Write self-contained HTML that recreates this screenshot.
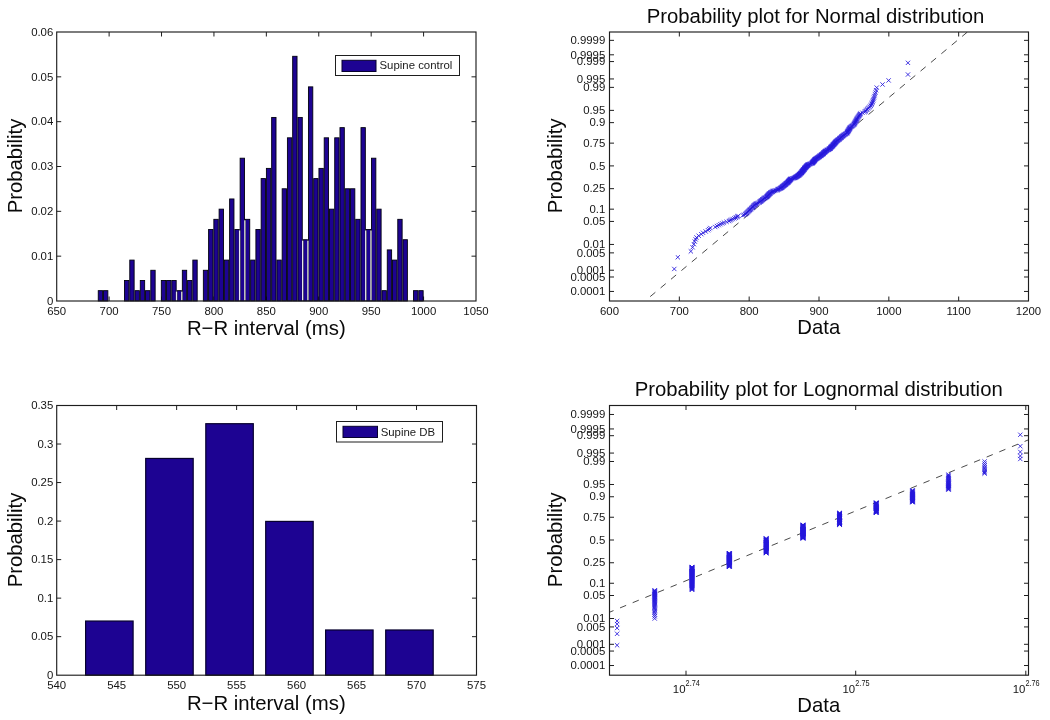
<!DOCTYPE html>
<html><head><meta charset="utf-8"><title>figure</title>
<style>
html,body{margin:0;padding:0;background:#fff;}
body{width:1050px;height:720px;overflow:hidden;font-family:"Liberation Sans",sans-serif;}
svg{display:block;font-family:"Liberation Sans",sans-serif;will-change:transform;opacity:0.999;}
</style></head><body>
<svg width="1050" height="720" viewBox="0 0 1050 720">
<rect width="1050" height="720" fill="#fff"/>
<g id="p1">
<path d="M109.11 301.0v-4.5M109.11 32.0v4.5M161.53 301.0v-4.5M161.53 32.0v4.5M213.94 301.0v-4.5M213.94 32.0v4.5M266.35 301.0v-4.5M266.35 32.0v4.5M318.76 301.0v-4.5M318.76 32.0v4.5M371.18 301.0v-4.5M371.18 32.0v4.5M423.59 301.0v-4.5M423.59 32.0v4.5" stroke="#1e1e1e" stroke-width="1" fill="none"/>
<path d="M56.7 256.17h4.5M476.0 256.17h-4.5M56.7 211.33h4.5M476.0 211.33h-4.5M56.7 166.50h4.5M476.0 166.50h-4.5M56.7 121.67h4.5M476.0 121.67h-4.5M56.7 76.83h4.5M476.0 76.83h-4.5" stroke="#1e1e1e" stroke-width="1" fill="none"/>
<rect x="98.25" y="290.66" width="4.35" height="10.34" fill="#1d0392" stroke="#00000f" stroke-width="0.9"/>
<rect x="103.50" y="290.66" width="4.35" height="10.34" fill="#1d0392" stroke="#00000f" stroke-width="0.9"/>
<rect x="124.52" y="280.47" width="4.35" height="20.53" fill="#1d0392" stroke="#00000f" stroke-width="0.9"/>
<rect x="129.78" y="260.09" width="4.35" height="40.91" fill="#1d0392" stroke="#00000f" stroke-width="0.9"/>
<rect x="135.03" y="290.66" width="4.35" height="10.34" fill="#1d0392" stroke="#00000f" stroke-width="0.9"/>
<rect x="140.29" y="280.47" width="4.35" height="20.53" fill="#1d0392" stroke="#00000f" stroke-width="0.9"/>
<rect x="145.54" y="290.66" width="4.35" height="10.34" fill="#1d0392" stroke="#00000f" stroke-width="0.9"/>
<rect x="150.80" y="270.28" width="4.35" height="30.72" fill="#1d0392" stroke="#00000f" stroke-width="0.9"/>
<rect x="161.31" y="280.47" width="4.35" height="20.53" fill="#1d0392" stroke="#00000f" stroke-width="0.9"/>
<rect x="166.56" y="280.47" width="4.35" height="20.53" fill="#1d0392" stroke="#00000f" stroke-width="0.9"/>
<rect x="171.82" y="280.47" width="4.35" height="20.53" fill="#1d0392" stroke="#00000f" stroke-width="0.9"/>
<rect x="177.07" y="290.66" width="4.35" height="10.34" fill="#1d0392" stroke="#00000f" stroke-width="0.9"/>
<rect x="182.33" y="270.28" width="4.35" height="30.72" fill="#1d0392" stroke="#00000f" stroke-width="0.9"/>
<rect x="187.58" y="280.47" width="4.35" height="20.53" fill="#1d0392" stroke="#00000f" stroke-width="0.9"/>
<rect x="192.84" y="260.09" width="4.35" height="40.91" fill="#1d0392" stroke="#00000f" stroke-width="0.9"/>
<rect x="203.35" y="270.28" width="4.35" height="30.72" fill="#1d0392" stroke="#00000f" stroke-width="0.9"/>
<rect x="208.60" y="229.52" width="4.35" height="71.48" fill="#1d0392" stroke="#00000f" stroke-width="0.9"/>
<rect x="213.86" y="219.33" width="4.35" height="81.67" fill="#1d0392" stroke="#00000f" stroke-width="0.9"/>
<rect x="219.11" y="209.15" width="4.35" height="91.85" fill="#1d0392" stroke="#00000f" stroke-width="0.9"/>
<rect x="224.37" y="260.09" width="4.35" height="40.91" fill="#1d0392" stroke="#00000f" stroke-width="0.9"/>
<rect x="229.62" y="198.96" width="4.35" height="102.04" fill="#1d0392" stroke="#00000f" stroke-width="0.9"/>
<rect x="234.88" y="229.52" width="4.35" height="71.48" fill="#1d0392" stroke="#00000f" stroke-width="0.9"/>
<rect x="240.13" y="158.20" width="4.35" height="142.80" fill="#1d0392" stroke="#00000f" stroke-width="0.9"/>
<rect x="245.39" y="219.33" width="4.35" height="81.67" fill="#1d0392" stroke="#00000f" stroke-width="0.9"/>
<rect x="250.64" y="260.09" width="4.35" height="40.91" fill="#1d0392" stroke="#00000f" stroke-width="0.9"/>
<rect x="255.90" y="229.52" width="4.35" height="71.48" fill="#1d0392" stroke="#00000f" stroke-width="0.9"/>
<rect x="261.15" y="178.58" width="4.35" height="122.42" fill="#1d0392" stroke="#00000f" stroke-width="0.9"/>
<rect x="266.40" y="168.39" width="4.35" height="132.61" fill="#1d0392" stroke="#00000f" stroke-width="0.9"/>
<rect x="271.66" y="117.44" width="4.35" height="183.56" fill="#1d0392" stroke="#00000f" stroke-width="0.9"/>
<rect x="276.91" y="260.09" width="4.35" height="40.91" fill="#1d0392" stroke="#00000f" stroke-width="0.9"/>
<rect x="282.17" y="188.77" width="4.35" height="112.23" fill="#1d0392" stroke="#00000f" stroke-width="0.9"/>
<rect x="287.42" y="137.82" width="4.35" height="163.18" fill="#1d0392" stroke="#00000f" stroke-width="0.9"/>
<rect x="292.68" y="56.30" width="4.35" height="244.70" fill="#1d0392" stroke="#00000f" stroke-width="0.9"/>
<rect x="297.93" y="117.44" width="4.35" height="183.56" fill="#1d0392" stroke="#00000f" stroke-width="0.9"/>
<rect x="303.19" y="239.71" width="4.35" height="61.29" fill="#1d0392" stroke="#00000f" stroke-width="0.9"/>
<rect x="308.44" y="86.87" width="4.35" height="214.13" fill="#1d0392" stroke="#00000f" stroke-width="0.9"/>
<rect x="313.70" y="178.58" width="4.35" height="122.42" fill="#1d0392" stroke="#00000f" stroke-width="0.9"/>
<rect x="318.95" y="168.39" width="4.35" height="132.61" fill="#1d0392" stroke="#00000f" stroke-width="0.9"/>
<rect x="324.21" y="137.82" width="4.35" height="163.18" fill="#1d0392" stroke="#00000f" stroke-width="0.9"/>
<rect x="329.46" y="209.15" width="4.35" height="91.85" fill="#1d0392" stroke="#00000f" stroke-width="0.9"/>
<rect x="334.72" y="137.82" width="4.35" height="163.18" fill="#1d0392" stroke="#00000f" stroke-width="0.9"/>
<rect x="339.97" y="127.63" width="4.35" height="173.37" fill="#1d0392" stroke="#00000f" stroke-width="0.9"/>
<rect x="345.23" y="188.77" width="4.35" height="112.23" fill="#1d0392" stroke="#00000f" stroke-width="0.9"/>
<rect x="350.48" y="188.77" width="4.35" height="112.23" fill="#1d0392" stroke="#00000f" stroke-width="0.9"/>
<rect x="355.74" y="219.33" width="4.35" height="81.67" fill="#1d0392" stroke="#00000f" stroke-width="0.9"/>
<rect x="360.99" y="127.63" width="4.35" height="173.37" fill="#1d0392" stroke="#00000f" stroke-width="0.9"/>
<rect x="366.25" y="229.52" width="4.35" height="71.48" fill="#1d0392" stroke="#00000f" stroke-width="0.9"/>
<rect x="371.50" y="158.20" width="4.35" height="142.80" fill="#1d0392" stroke="#00000f" stroke-width="0.9"/>
<rect x="376.76" y="209.15" width="4.35" height="91.85" fill="#1d0392" stroke="#00000f" stroke-width="0.9"/>
<rect x="382.01" y="290.66" width="4.35" height="10.34" fill="#1d0392" stroke="#00000f" stroke-width="0.9"/>
<rect x="387.27" y="249.90" width="4.35" height="51.10" fill="#1d0392" stroke="#00000f" stroke-width="0.9"/>
<rect x="392.52" y="260.09" width="4.35" height="40.91" fill="#1d0392" stroke="#00000f" stroke-width="0.9"/>
<rect x="397.78" y="219.33" width="4.35" height="81.67" fill="#1d0392" stroke="#00000f" stroke-width="0.9"/>
<rect x="403.03" y="239.71" width="4.35" height="61.29" fill="#1d0392" stroke="#00000f" stroke-width="0.9"/>
<rect x="413.54" y="290.66" width="4.35" height="10.34" fill="#1d0392" stroke="#00000f" stroke-width="0.9"/>
<rect x="418.80" y="290.66" width="4.35" height="10.34" fill="#1d0392" stroke="#00000f" stroke-width="0.9"/>
<rect x="175.87" y="291.61" width="1.3" height="8.79" fill="#e6e6ee"/>
<rect x="181.13" y="291.61" width="1.3" height="8.79" fill="#e6e6ee"/>
<rect x="238.93" y="230.47" width="1.3" height="69.93" fill="#e6e6ee"/>
<rect x="244.19" y="220.28" width="1.3" height="80.12" fill="#e6e6ee"/>
<rect x="301.99" y="240.66" width="1.3" height="59.74" fill="#e6e6ee"/>
<rect x="307.24" y="240.66" width="1.3" height="59.74" fill="#e6e6ee"/>
<rect x="365.05" y="230.47" width="1.3" height="69.93" fill="#e6e6ee"/>
<rect x="370.30" y="230.47" width="1.3" height="69.93" fill="#e6e6ee"/>
<rect x="56.7" y="32.0" width="419.3" height="269.0" fill="none" stroke="#1e1e1e" stroke-width="1.15"/>
<text x="56.70" y="315.40" font-size="11.4" text-anchor="middle" fill="#151515" >650</text>
<text x="109.11" y="315.40" font-size="11.4" text-anchor="middle" fill="#151515" >700</text>
<text x="161.53" y="315.40" font-size="11.4" text-anchor="middle" fill="#151515" >750</text>
<text x="213.94" y="315.40" font-size="11.4" text-anchor="middle" fill="#151515" >800</text>
<text x="266.35" y="315.40" font-size="11.4" text-anchor="middle" fill="#151515" >850</text>
<text x="318.76" y="315.40" font-size="11.4" text-anchor="middle" fill="#151515" >900</text>
<text x="371.18" y="315.40" font-size="11.4" text-anchor="middle" fill="#151515" >950</text>
<text x="423.59" y="315.40" font-size="11.4" text-anchor="middle" fill="#151515" >1000</text>
<text x="476.00" y="315.40" font-size="11.4" text-anchor="middle" fill="#151515" >1050</text>
<text x="53.30" y="304.70" font-size="11.4" text-anchor="end" fill="#151515" >0</text>
<text x="53.30" y="259.87" font-size="11.4" text-anchor="end" fill="#151515" >0.01</text>
<text x="53.30" y="215.03" font-size="11.4" text-anchor="end" fill="#151515" >0.02</text>
<text x="53.30" y="170.20" font-size="11.4" text-anchor="end" fill="#151515" >0.03</text>
<text x="53.30" y="125.37" font-size="11.4" text-anchor="end" fill="#151515" >0.04</text>
<text x="53.30" y="80.53" font-size="11.4" text-anchor="end" fill="#151515" >0.05</text>
<text x="53.30" y="35.70" font-size="11.4" text-anchor="end" fill="#151515" >0.06</text>
<text x="266.30" y="334.80" font-size="20.35" text-anchor="middle" fill="#0a0a0a" >R−R interval (ms)</text>
<text transform="translate(22.00 166.00) rotate(-90)" font-size="20.3" text-anchor="middle" fill="#0a0a0a">Probability</text>
<rect x="335.5" y="55.5" width="124" height="20" fill="#fff" stroke="#1e1e1e" stroke-width="1"/>
<rect x="342" y="60.3" width="34" height="11.2" fill="#1d0392" stroke="#07002e" stroke-width="1"/>
<text x="379.50" y="69.30" font-size="11.4" text-anchor="start" fill="#1a1a1a" >Supine control</text>
</g>
<g id="p3">
<path d="M116.67 675.2v-4.5M116.67 405.5v4.5M176.64 675.2v-4.5M176.64 405.5v4.5M236.61 675.2v-4.5M236.61 405.5v4.5M296.59 675.2v-4.5M296.59 405.5v4.5M356.56 675.2v-4.5M356.56 405.5v4.5M416.53 675.2v-4.5M416.53 405.5v4.5" stroke="#1e1e1e" stroke-width="1" fill="none"/>
<path d="M56.7 636.67h4.5M476.5 636.67h-4.5M56.7 598.14h4.5M476.5 598.14h-4.5M56.7 559.61h4.5M476.5 559.61h-4.5M56.7 521.09h4.5M476.5 521.09h-4.5M56.7 482.56h4.5M476.5 482.56h-4.5M56.7 444.03h4.5M476.5 444.03h-4.5" stroke="#1e1e1e" stroke-width="1" fill="none"/>
<rect x="85.60" y="621.04" width="47.5" height="54.16" fill="#1d0392" stroke="#07002e" stroke-width="1.2"/>
<rect x="145.70" y="458.45" width="47.5" height="216.75" fill="#1d0392" stroke="#07002e" stroke-width="1.2"/>
<rect x="205.80" y="423.70" width="47.5" height="251.50" fill="#1d0392" stroke="#07002e" stroke-width="1.2"/>
<rect x="265.70" y="521.41" width="47.5" height="153.79" fill="#1d0392" stroke="#07002e" stroke-width="1.2"/>
<rect x="325.60" y="629.98" width="47.5" height="45.22" fill="#1d0392" stroke="#07002e" stroke-width="1.2"/>
<rect x="385.70" y="629.98" width="47.5" height="45.22" fill="#1d0392" stroke="#07002e" stroke-width="1.2"/>
<rect x="56.7" y="405.5" width="419.8" height="269.70000000000005" fill="none" stroke="#1e1e1e" stroke-width="1.15"/>
<text x="56.70" y="689.30" font-size="11.4" text-anchor="middle" fill="#151515" >540</text>
<text x="116.67" y="689.30" font-size="11.4" text-anchor="middle" fill="#151515" >545</text>
<text x="176.64" y="689.30" font-size="11.4" text-anchor="middle" fill="#151515" >550</text>
<text x="236.61" y="689.30" font-size="11.4" text-anchor="middle" fill="#151515" >555</text>
<text x="296.59" y="689.30" font-size="11.4" text-anchor="middle" fill="#151515" >560</text>
<text x="356.56" y="689.30" font-size="11.4" text-anchor="middle" fill="#151515" >565</text>
<text x="416.53" y="689.30" font-size="11.4" text-anchor="middle" fill="#151515" >570</text>
<text x="476.50" y="689.30" font-size="11.4" text-anchor="middle" fill="#151515" >575</text>
<text x="53.30" y="678.90" font-size="11.4" text-anchor="end" fill="#151515" >0</text>
<text x="53.30" y="640.37" font-size="11.4" text-anchor="end" fill="#151515" >0.05</text>
<text x="53.30" y="601.84" font-size="11.4" text-anchor="end" fill="#151515" >0.1</text>
<text x="53.30" y="563.31" font-size="11.4" text-anchor="end" fill="#151515" >0.15</text>
<text x="53.30" y="524.79" font-size="11.4" text-anchor="end" fill="#151515" >0.2</text>
<text x="53.30" y="486.26" font-size="11.4" text-anchor="end" fill="#151515" >0.25</text>
<text x="53.30" y="447.73" font-size="11.4" text-anchor="end" fill="#151515" >0.3</text>
<text x="53.30" y="409.20" font-size="11.4" text-anchor="end" fill="#151515" >0.35</text>
<text x="266.30" y="709.50" font-size="20.35" text-anchor="middle" fill="#0a0a0a" >R−R interval (ms)</text>
<text transform="translate(22.00 540.00) rotate(-90)" font-size="20.3" text-anchor="middle" fill="#0a0a0a">Probability</text>
<rect x="336.5" y="421.5" width="106" height="20.5" fill="#fff" stroke="#1e1e1e" stroke-width="1"/>
<rect x="343" y="426.3" width="34.5" height="11.2" fill="#1d0392" stroke="#07002e" stroke-width="1"/>
<text x="380.70" y="436.00" font-size="11.4" text-anchor="start" fill="#1a1a1a" >Supine DB</text>
</g>
<g id="p2">
<clipPath id="c2"><rect x="609.5" y="32.0" width="419.0" height="269.0"/></clipPath>
<path d="M650.2 296.6L991.4 12" stroke="#4a4a4a" stroke-width="1" stroke-dasharray="6.7 6.84" fill="none" clip-path="url(#c2)"/>
<path d="M672.15 266.81l4.30 4.30M672.15 271.11l4.30 -4.30M675.64 255.12l4.30 4.30M675.64 259.42l4.30 -4.30M688.70 249.23l4.30 4.30M688.70 253.53l4.30 -4.30M690.45 245.17l4.30 4.30M690.45 249.47l4.30 -4.30M691.75 242.03l4.30 4.30M691.75 246.33l4.30 -4.30M692.62 239.45l4.30 4.30M692.62 243.75l4.30 -4.30M693.50 237.25l4.30 4.30M693.50 241.55l4.30 -4.30M694.37 235.32l4.30 4.30M694.37 239.62l4.30 -4.30M696.54 233.60l4.30 4.30M696.54 237.90l4.30 -4.30M699.16 232.04l4.30 4.30M699.16 236.34l4.30 -4.30M700.90 230.62l4.30 4.30M700.90 234.92l4.30 -4.30M703.51 229.31l4.30 4.30M703.51 233.61l4.30 -4.30M705.84 228.09l4.30 4.30M705.84 232.39l4.30 -4.30M707.00 226.94l4.30 4.30M707.00 231.24l4.30 -4.30M708.16 225.87l4.30 4.30M708.16 230.17l4.30 -4.30M713.10 224.86l4.30 4.30M713.10 229.16l4.30 -4.30M714.84 223.89l4.30 4.30M714.84 228.19l4.30 -4.30M716.58 222.98l4.30 4.30M716.58 227.28l4.30 -4.30M718.32 222.10l4.30 4.30M718.32 226.40l4.30 -4.30M720.07 221.27l4.30 4.30M720.07 225.57l4.30 -4.30M721.81 220.46l4.30 4.30M721.81 224.76l4.30 -4.30M724.42 219.69l4.30 4.30M724.42 223.99l4.30 -4.30M726.75 218.95l4.30 4.30M726.75 223.25l4.30 -4.30M727.91 218.23l4.30 4.30M727.91 222.53l4.30 -4.30M729.07 217.54l4.30 4.30M729.07 221.84l4.30 -4.30M730.52 216.87l4.30 4.30M730.52 221.17l4.30 -4.30M732.26 216.21l4.30 4.30M732.26 220.51l4.30 -4.30M733.57 215.58l4.30 4.30M733.57 219.88l4.30 -4.30M734.44 214.97l4.30 4.30M734.44 219.27l4.30 -4.30M735.31 214.37l4.30 4.30M735.31 218.67l4.30 -4.30M736.18 213.78l4.30 4.30M736.18 218.08l4.30 -4.30M740.68 213.22l4.30 4.30M740.68 217.52l4.30 -4.30M741.85 212.66l4.30 4.30M741.85 216.96l4.30 -4.30M743.01 212.12l4.30 4.30M743.01 216.42l4.30 -4.30M743.84 211.59l4.30 4.30M743.84 215.89l4.30 -4.30M744.33 211.07l4.30 4.30M744.33 215.37l4.30 -4.30M744.83 210.57l4.30 4.30M744.83 214.87l4.30 -4.30M745.33 210.07l4.30 4.30M745.33 214.37l4.30 -4.30M745.83 209.58l4.30 4.30M745.83 213.88l4.30 -4.30M746.33 209.10l4.30 4.30M746.33 213.40l4.30 -4.30M746.82 208.63l4.30 4.30M746.82 212.93l4.30 -4.30M747.29 208.17l4.30 4.30M747.29 212.47l4.30 -4.30M747.73 207.72l4.30 4.30M747.73 212.02l4.30 -4.30M748.16 207.28l4.30 4.30M748.16 211.58l4.30 -4.30M748.60 206.84l4.30 4.30M748.60 211.14l4.30 -4.30M749.03 206.41l4.30 4.30M749.03 210.71l4.30 -4.30M749.47 205.99l4.30 4.30M749.47 210.29l4.30 -4.30M749.90 205.57l4.30 4.30M749.90 209.87l4.30 -4.30M750.34 205.16l4.30 4.30M750.34 209.46l4.30 -4.30M750.75 204.76l4.30 4.30M750.75 209.06l4.30 -4.30M751.14 204.36l4.30 4.30M751.14 208.66l4.30 -4.30M751.53 203.97l4.30 4.30M751.53 208.27l4.30 -4.30M751.91 203.58l4.30 4.30M751.91 207.88l4.30 -4.30M752.30 203.20l4.30 4.30M752.30 207.50l4.30 -4.30M752.69 202.82l4.30 4.30M752.69 207.12l4.30 -4.30M753.07 202.45l4.30 4.30M753.07 206.75l4.30 -4.30M753.46 202.08l4.30 4.30M753.46 206.38l4.30 -4.30M753.85 201.72l4.30 4.30M753.85 206.02l4.30 -4.30M754.48 201.36l4.30 4.30M754.48 205.66l4.30 -4.30M755.35 201.00l4.30 4.30M755.35 205.30l4.30 -4.30M756.22 200.65l4.30 4.30M756.22 204.95l4.30 -4.30M757.09 200.30l4.30 4.30M757.09 204.60l4.30 -4.30M757.70 199.96l4.30 4.30M757.70 204.26l4.30 -4.30M758.05 199.62l4.30 4.30M758.05 203.92l4.30 -4.30M758.40 199.29l4.30 4.30M758.40 203.59l4.30 -4.30M758.75 198.95l4.30 4.30M758.75 203.25l4.30 -4.30M759.09 198.63l4.30 4.30M759.09 202.93l4.30 -4.30M759.44 198.30l4.30 4.30M759.44 202.60l4.30 -4.30M759.79 197.98l4.30 4.30M759.79 202.28l4.30 -4.30M760.14 197.66l4.30 4.30M760.14 201.96l4.30 -4.30M760.49 197.34l4.30 4.30M760.49 201.64l4.30 -4.30M760.84 197.03l4.30 4.30M760.84 201.33l4.30 -4.30M761.26 196.72l4.30 4.30M761.26 201.02l4.30 -4.30M761.76 196.41l4.30 4.30M761.76 200.71l4.30 -4.30M762.26 196.11l4.30 4.30M762.26 200.41l4.30 -4.30M762.75 195.80l4.30 4.30M762.75 200.10l4.30 -4.30M763.25 195.50l4.30 4.30M763.25 199.80l4.30 -4.30M763.75 195.21l4.30 4.30M763.75 199.51l4.30 -4.30M764.25 194.91l4.30 4.30M764.25 199.21l4.30 -4.30M764.62 194.62l4.30 4.30M764.62 198.92l4.30 -4.30M764.87 194.33l4.30 4.30M764.87 198.63l4.30 -4.30M765.12 194.04l4.30 4.30M765.12 198.34l4.30 -4.30M765.37 193.75l4.30 4.30M765.37 198.05l4.30 -4.30M765.62 193.47l4.30 4.30M765.62 197.77l4.30 -4.30M765.86 193.19l4.30 4.30M765.86 197.49l4.30 -4.30M766.11 192.91l4.30 4.30M766.11 197.21l4.30 -4.30M766.36 192.63l4.30 4.30M766.36 196.93l4.30 -4.30M766.61 192.36l4.30 4.30M766.61 196.66l4.30 -4.30M766.86 192.08l4.30 4.30M766.86 196.38l4.30 -4.30M767.11 191.81l4.30 4.30M767.11 196.11l4.30 -4.30M767.36 191.54l4.30 4.30M767.36 195.84l4.30 -4.30M767.61 191.27l4.30 4.30M767.61 195.57l4.30 -4.30M767.86 191.00l4.30 4.30M767.86 195.30l4.30 -4.30M768.20 190.74l4.30 4.30M768.20 195.04l4.30 -4.30M768.63 190.48l4.30 4.30M768.63 194.78l4.30 -4.30M769.07 190.21l4.30 4.30M769.07 194.51l4.30 -4.30M769.51 189.95l4.30 4.30M769.51 194.25l4.30 -4.30M769.94 189.70l4.30 4.30M769.94 194.00l4.30 -4.30M770.38 189.44l4.30 4.30M770.38 193.74l4.30 -4.30M770.81 189.18l4.30 4.30M770.81 193.48l4.30 -4.30M771.25 188.93l4.30 4.30M771.25 193.23l4.30 -4.30M771.90 188.68l4.30 4.30M771.90 192.98l4.30 -4.30M772.77 188.42l4.30 4.30M772.77 192.72l4.30 -4.30M773.64 188.17l4.30 4.30M773.64 192.47l4.30 -4.30M774.51 187.93l4.30 4.30M774.51 192.23l4.30 -4.30M775.20 187.68l4.30 4.30M775.20 191.98l4.30 -4.30M775.70 187.43l4.30 4.30M775.70 191.73l4.30 -4.30M776.19 187.19l4.30 4.30M776.19 191.49l4.30 -4.30M776.69 186.94l4.30 4.30M776.69 191.24l4.30 -4.30M777.19 186.70l4.30 4.30M777.19 191.00l4.30 -4.30M777.69 186.46l4.30 4.30M777.69 190.76l4.30 -4.30M778.19 186.22l4.30 4.30M778.19 190.52l4.30 -4.30M778.58 185.98l4.30 4.30M778.58 190.28l4.30 -4.30M778.87 185.74l4.30 4.30M778.87 190.04l4.30 -4.30M779.16 185.51l4.30 4.30M779.16 189.81l4.30 -4.30M779.45 185.27l4.30 4.30M779.45 189.57l4.30 -4.30M779.74 185.04l4.30 4.30M779.74 189.34l4.30 -4.30M780.03 184.80l4.30 4.30M780.03 189.10l4.30 -4.30M780.32 184.57l4.30 4.30M780.32 188.87l4.30 -4.30M780.61 184.34l4.30 4.30M780.61 188.64l4.30 -4.30M780.90 184.11l4.30 4.30M780.90 188.41l4.30 -4.30M781.19 183.88l4.30 4.30M781.19 188.18l4.30 -4.30M781.48 183.65l4.30 4.30M781.48 187.95l4.30 -4.30M781.77 183.42l4.30 4.30M781.77 187.72l4.30 -4.30M782.05 183.20l4.30 4.30M782.05 187.50l4.30 -4.30M782.32 182.97l4.30 4.30M782.32 187.27l4.30 -4.30M782.59 182.74l4.30 4.30M782.59 187.04l4.30 -4.30M782.86 182.52l4.30 4.30M782.86 186.82l4.30 -4.30M783.13 182.30l4.30 4.30M783.13 186.60l4.30 -4.30M783.39 182.07l4.30 4.30M783.39 186.37l4.30 -4.30M783.66 181.85l4.30 4.30M783.66 186.15l4.30 -4.30M783.93 181.63l4.30 4.30M783.93 185.93l4.30 -4.30M784.20 181.41l4.30 4.30M784.20 185.71l4.30 -4.30M784.47 181.19l4.30 4.30M784.47 185.49l4.30 -4.30M784.73 180.97l4.30 4.30M784.73 185.27l4.30 -4.30M785.00 180.75l4.30 4.30M785.00 185.05l4.30 -4.30M785.27 180.54l4.30 4.30M785.27 184.84l4.30 -4.30M785.50 180.32l4.30 4.30M785.50 184.62l4.30 -4.30M785.69 180.10l4.30 4.30M785.69 184.40l4.30 -4.30M785.89 179.89l4.30 4.30M785.89 184.19l4.30 -4.30M786.08 179.67l4.30 4.30M786.08 183.97l4.30 -4.30M786.28 179.46l4.30 4.30M786.28 183.76l4.30 -4.30M786.47 179.24l4.30 4.30M786.47 183.54l4.30 -4.30M786.66 179.03l4.30 4.30M786.66 183.33l4.30 -4.30M786.86 178.82l4.30 4.30M786.86 183.12l4.30 -4.30M787.05 178.61l4.30 4.30M787.05 182.91l4.30 -4.30M787.24 178.40l4.30 4.30M787.24 182.70l4.30 -4.30M787.44 178.19l4.30 4.30M787.44 182.49l4.30 -4.30M787.63 177.98l4.30 4.30M787.63 182.28l4.30 -4.30M787.82 177.77l4.30 4.30M787.82 182.07l4.30 -4.30M788.02 177.56l4.30 4.30M788.02 181.86l4.30 -4.30M788.21 177.35l4.30 4.30M788.21 181.65l4.30 -4.30M788.40 177.14l4.30 4.30M788.40 181.44l4.30 -4.30M788.60 176.93l4.30 4.30M788.60 181.23l4.30 -4.30M788.79 176.73l4.30 4.30M788.79 181.03l4.30 -4.30M789.32 176.52l4.30 4.30M789.32 180.82l4.30 -4.30M790.20 176.32l4.30 4.30M790.20 180.62l4.30 -4.30M791.07 176.11l4.30 4.30M791.07 180.41l4.30 -4.30M791.94 175.90l4.30 4.30M791.94 180.20l4.30 -4.30M792.53 175.70l4.30 4.30M792.53 180.00l4.30 -4.30M792.85 175.50l4.30 4.30M792.85 179.80l4.30 -4.30M793.17 175.29l4.30 4.30M793.17 179.59l4.30 -4.30M793.48 175.09l4.30 4.30M793.48 179.39l4.30 -4.30M793.80 174.89l4.30 4.30M793.80 179.19l4.30 -4.30M794.12 174.68l4.30 4.30M794.12 178.98l4.30 -4.30M794.43 174.48l4.30 4.30M794.43 178.78l4.30 -4.30M794.75 174.28l4.30 4.30M794.75 178.58l4.30 -4.30M795.07 174.08l4.30 4.30M795.07 178.38l4.30 -4.30M795.38 173.88l4.30 4.30M795.38 178.18l4.30 -4.30M795.70 173.68l4.30 4.30M795.70 177.98l4.30 -4.30M795.97 173.48l4.30 4.30M795.97 177.78l4.30 -4.30M796.18 173.28l4.30 4.30M796.18 177.58l4.30 -4.30M796.40 173.08l4.30 4.30M796.40 177.38l4.30 -4.30M796.62 172.88l4.30 4.30M796.62 177.18l4.30 -4.30M796.84 172.68l4.30 4.30M796.84 176.98l4.30 -4.30M797.06 172.48l4.30 4.30M797.06 176.78l4.30 -4.30M797.27 172.28l4.30 4.30M797.27 176.58l4.30 -4.30M797.49 172.09l4.30 4.30M797.49 176.39l4.30 -4.30M797.71 171.89l4.30 4.30M797.71 176.19l4.30 -4.30M797.93 171.69l4.30 4.30M797.93 175.99l4.30 -4.30M798.14 171.49l4.30 4.30M798.14 175.79l4.30 -4.30M798.36 171.30l4.30 4.30M798.36 175.60l4.30 -4.30M798.58 171.10l4.30 4.30M798.58 175.40l4.30 -4.30M798.80 170.90l4.30 4.30M798.80 175.20l4.30 -4.30M799.02 170.71l4.30 4.30M799.02 175.01l4.30 -4.30M799.23 170.51l4.30 4.30M799.23 174.81l4.30 -4.30M799.42 170.32l4.30 4.30M799.42 174.62l4.30 -4.30M799.56 170.12l4.30 4.30M799.56 174.42l4.30 -4.30M799.71 169.92l4.30 4.30M799.71 174.22l4.30 -4.30M799.85 169.73l4.30 4.30M799.85 174.03l4.30 -4.30M800.00 169.53l4.30 4.30M800.00 173.83l4.30 -4.30M800.14 169.34l4.30 4.30M800.14 173.64l4.30 -4.30M800.29 169.15l4.30 4.30M800.29 173.45l4.30 -4.30M800.43 168.95l4.30 4.30M800.43 173.25l4.30 -4.30M800.58 168.76l4.30 4.30M800.58 173.06l4.30 -4.30M800.72 168.56l4.30 4.30M800.72 172.86l4.30 -4.30M800.87 168.37l4.30 4.30M800.87 172.67l4.30 -4.30M801.01 168.18l4.30 4.30M801.01 172.48l4.30 -4.30M801.16 167.98l4.30 4.30M801.16 172.28l4.30 -4.30M801.30 167.79l4.30 4.30M801.30 172.09l4.30 -4.30M801.45 167.60l4.30 4.30M801.45 171.90l4.30 -4.30M801.59 167.40l4.30 4.30M801.59 171.70l4.30 -4.30M801.74 167.21l4.30 4.30M801.74 171.51l4.30 -4.30M801.88 167.02l4.30 4.30M801.88 171.32l4.30 -4.30M802.03 166.82l4.30 4.30M802.03 171.12l4.30 -4.30M802.17 166.63l4.30 4.30M802.17 170.93l4.30 -4.30M802.32 166.44l4.30 4.30M802.32 170.74l4.30 -4.30M802.46 166.25l4.30 4.30M802.46 170.55l4.30 -4.30M802.61 166.05l4.30 4.30M802.61 170.35l4.30 -4.30M802.75 165.86l4.30 4.30M802.75 170.16l4.30 -4.30M802.92 165.67l4.30 4.30M802.92 169.97l4.30 -4.30M803.12 165.48l4.30 4.30M803.12 169.78l4.30 -4.30M803.31 165.29l4.30 4.30M803.31 169.59l4.30 -4.30M803.51 165.09l4.30 4.30M803.51 169.39l4.30 -4.30M803.70 164.90l4.30 4.30M803.70 169.20l4.30 -4.30M803.89 164.71l4.30 4.30M803.89 169.01l4.30 -4.30M804.09 164.52l4.30 4.30M804.09 168.82l4.30 -4.30M804.28 164.33l4.30 4.30M804.28 168.63l4.30 -4.30M804.47 164.13l4.30 4.30M804.47 168.43l4.30 -4.30M804.67 163.94l4.30 4.30M804.67 168.24l4.30 -4.30M804.86 163.75l4.30 4.30M804.86 168.05l4.30 -4.30M805.05 163.56l4.30 4.30M805.05 167.86l4.30 -4.30M805.25 163.37l4.30 4.30M805.25 167.67l4.30 -4.30M805.44 163.17l4.30 4.30M805.44 167.47l4.30 -4.30M805.63 162.98l4.30 4.30M805.63 167.28l4.30 -4.30M805.83 162.79l4.30 4.30M805.83 167.09l4.30 -4.30M806.02 162.60l4.30 4.30M806.02 166.90l4.30 -4.30M806.22 162.41l4.30 4.30M806.22 166.71l4.30 -4.30M806.60 162.21l4.30 4.30M806.60 166.51l4.30 -4.30M807.18 162.02l4.30 4.30M807.18 166.32l4.30 -4.30M807.76 161.83l4.30 4.30M807.76 166.13l4.30 -4.30M808.34 161.64l4.30 4.30M808.34 165.94l4.30 -4.30M808.93 161.45l4.30 4.30M808.93 165.75l4.30 -4.30M809.51 161.25l4.30 4.30M809.51 165.55l4.30 -4.30M809.88 161.06l4.30 4.30M809.88 165.36l4.30 -4.30M810.05 160.87l4.30 4.30M810.05 165.17l4.30 -4.30M810.21 160.68l4.30 4.30M810.21 164.98l4.30 -4.30M810.38 160.48l4.30 4.30M810.38 164.78l4.30 -4.30M810.54 160.29l4.30 4.30M810.54 164.59l4.30 -4.30M810.71 160.10l4.30 4.30M810.71 164.40l4.30 -4.30M810.88 159.90l4.30 4.30M810.88 164.20l4.30 -4.30M811.04 159.71l4.30 4.30M811.04 164.01l4.30 -4.30M811.21 159.52l4.30 4.30M811.21 163.82l4.30 -4.30M811.37 159.32l4.30 4.30M811.37 163.62l4.30 -4.30M811.54 159.13l4.30 4.30M811.54 163.43l4.30 -4.30M811.71 158.94l4.30 4.30M811.71 163.24l4.30 -4.30M811.87 158.74l4.30 4.30M811.87 163.04l4.30 -4.30M812.04 158.55l4.30 4.30M812.04 162.85l4.30 -4.30M812.20 158.35l4.30 4.30M812.20 162.65l4.30 -4.30M812.37 158.16l4.30 4.30M812.37 162.46l4.30 -4.30M812.53 157.97l4.30 4.30M812.53 162.27l4.30 -4.30M812.70 157.77l4.30 4.30M812.70 162.07l4.30 -4.30M812.87 157.58l4.30 4.30M812.87 161.88l4.30 -4.30M813.03 157.38l4.30 4.30M813.03 161.68l4.30 -4.30M813.20 157.18l4.30 4.30M813.20 161.48l4.30 -4.30M813.43 156.99l4.30 4.30M813.43 161.29l4.30 -4.30M813.72 156.79l4.30 4.30M813.72 161.09l4.30 -4.30M814.01 156.60l4.30 4.30M814.01 160.90l4.30 -4.30M814.30 156.40l4.30 4.30M814.30 160.70l4.30 -4.30M814.59 156.20l4.30 4.30M814.59 160.50l4.30 -4.30M814.88 156.01l4.30 4.30M814.88 160.31l4.30 -4.30M815.17 155.81l4.30 4.30M815.17 160.11l4.30 -4.30M815.46 155.61l4.30 4.30M815.46 159.91l4.30 -4.30M815.75 155.41l4.30 4.30M815.75 159.71l4.30 -4.30M816.04 155.22l4.30 4.30M816.04 159.52l4.30 -4.30M816.33 155.02l4.30 4.30M816.33 159.32l4.30 -4.30M816.62 154.82l4.30 4.30M816.62 159.12l4.30 -4.30M816.90 154.62l4.30 4.30M816.90 158.92l4.30 -4.30M817.17 154.42l4.30 4.30M817.17 158.72l4.30 -4.30M817.44 154.22l4.30 4.30M817.44 158.52l4.30 -4.30M817.70 154.02l4.30 4.30M817.70 158.32l4.30 -4.30M817.97 153.82l4.30 4.30M817.97 158.12l4.30 -4.30M818.24 153.62l4.30 4.30M818.24 157.92l4.30 -4.30M818.51 153.42l4.30 4.30M818.51 157.72l4.30 -4.30M818.78 153.22l4.30 4.30M818.78 157.52l4.30 -4.30M819.04 153.02l4.30 4.30M819.04 157.32l4.30 -4.30M819.31 152.82l4.30 4.30M819.31 157.12l4.30 -4.30M819.58 152.61l4.30 4.30M819.58 156.91l4.30 -4.30M819.85 152.41l4.30 4.30M819.85 156.71l4.30 -4.30M820.12 152.21l4.30 4.30M820.12 156.51l4.30 -4.30M820.36 152.00l4.30 4.30M820.36 156.30l4.30 -4.30M820.58 151.80l4.30 4.30M820.58 156.10l4.30 -4.30M820.80 151.60l4.30 4.30M820.80 155.90l4.30 -4.30M821.01 151.39l4.30 4.30M821.01 155.69l4.30 -4.30M821.23 151.18l4.30 4.30M821.23 155.48l4.30 -4.30M821.45 150.98l4.30 4.30M821.45 155.28l4.30 -4.30M821.67 150.77l4.30 4.30M821.67 155.07l4.30 -4.30M821.88 150.57l4.30 4.30M821.88 154.87l4.30 -4.30M822.10 150.36l4.30 4.30M822.10 154.66l4.30 -4.30M822.32 150.15l4.30 4.30M822.32 154.45l4.30 -4.30M822.54 149.94l4.30 4.30M822.54 154.24l4.30 -4.30M822.76 149.73l4.30 4.30M822.76 154.03l4.30 -4.30M822.97 149.52l4.30 4.30M822.97 153.82l4.30 -4.30M823.19 149.31l4.30 4.30M823.19 153.61l4.30 -4.30M823.41 149.10l4.30 4.30M823.41 153.40l4.30 -4.30M823.63 148.89l4.30 4.30M823.63 153.19l4.30 -4.30M823.93 148.68l4.30 4.30M823.93 152.98l4.30 -4.30M824.32 148.47l4.30 4.30M824.32 152.77l4.30 -4.30M824.70 148.26l4.30 4.30M824.70 152.56l4.30 -4.30M825.09 148.04l4.30 4.30M825.09 152.34l4.30 -4.30M825.48 147.83l4.30 4.30M825.48 152.13l4.30 -4.30M825.87 147.61l4.30 4.30M825.87 151.91l4.30 -4.30M826.25 147.40l4.30 4.30M826.25 151.70l4.30 -4.30M826.64 147.18l4.30 4.30M826.64 151.48l4.30 -4.30M827.03 146.96l4.30 4.30M827.03 151.26l4.30 -4.30M827.33 146.75l4.30 4.30M827.33 151.05l4.30 -4.30M827.55 146.53l4.30 4.30M827.55 150.83l4.30 -4.30M827.76 146.31l4.30 4.30M827.76 150.61l4.30 -4.30M827.98 146.09l4.30 4.30M827.98 150.39l4.30 -4.30M828.20 145.87l4.30 4.30M828.20 150.17l4.30 -4.30M828.42 145.65l4.30 4.30M828.42 149.95l4.30 -4.30M828.64 145.43l4.30 4.30M828.64 149.73l4.30 -4.30M828.85 145.20l4.30 4.30M828.85 149.50l4.30 -4.30M829.07 144.98l4.30 4.30M829.07 149.28l4.30 -4.30M829.29 144.76l4.30 4.30M829.29 149.06l4.30 -4.30M829.51 144.53l4.30 4.30M829.51 148.83l4.30 -4.30M829.72 144.30l4.30 4.30M829.72 148.60l4.30 -4.30M829.94 144.08l4.30 4.30M829.94 148.38l4.30 -4.30M830.16 143.85l4.30 4.30M830.16 148.15l4.30 -4.30M830.38 143.62l4.30 4.30M830.38 147.92l4.30 -4.30M830.60 143.39l4.30 4.30M830.60 147.69l4.30 -4.30M830.81 143.16l4.30 4.30M830.81 147.46l4.30 -4.30M831.01 142.93l4.30 4.30M831.01 147.23l4.30 -4.30M831.22 142.70l4.30 4.30M831.22 147.00l4.30 -4.30M831.42 142.46l4.30 4.30M831.42 146.76l4.30 -4.30M831.63 142.23l4.30 4.30M831.63 146.53l4.30 -4.30M831.83 141.99l4.30 4.30M831.83 146.29l4.30 -4.30M832.04 141.76l4.30 4.30M832.04 146.06l4.30 -4.30M832.24 141.52l4.30 4.30M832.24 145.82l4.30 -4.30M832.45 141.28l4.30 4.30M832.45 145.58l4.30 -4.30M832.65 141.04l4.30 4.30M832.65 145.34l4.30 -4.30M832.86 140.80l4.30 4.30M832.86 145.10l4.30 -4.30M833.06 140.56l4.30 4.30M833.06 144.86l4.30 -4.30M833.27 140.31l4.30 4.30M833.27 144.61l4.30 -4.30M833.47 140.07l4.30 4.30M833.47 144.37l4.30 -4.30M833.68 139.82l4.30 4.30M833.68 144.12l4.30 -4.30M833.88 139.57l4.30 4.30M833.88 143.87l4.30 -4.30M834.09 139.33l4.30 4.30M834.09 143.63l4.30 -4.30M834.35 139.08l4.30 4.30M834.35 143.38l4.30 -4.30M834.66 138.82l4.30 4.30M834.66 143.12l4.30 -4.30M834.98 138.57l4.30 4.30M834.98 142.87l4.30 -4.30M835.30 138.32l4.30 4.30M835.30 142.62l4.30 -4.30M835.62 138.06l4.30 4.30M835.62 142.36l4.30 -4.30M835.93 137.80l4.30 4.30M835.93 142.10l4.30 -4.30M836.25 137.55l4.30 4.30M836.25 141.85l4.30 -4.30M836.57 137.29l4.30 4.30M836.57 141.59l4.30 -4.30M836.88 137.02l4.30 4.30M836.88 141.32l4.30 -4.30M837.20 136.76l4.30 4.30M837.20 141.06l4.30 -4.30M837.52 136.50l4.30 4.30M837.52 140.80l4.30 -4.30M837.83 136.23l4.30 4.30M837.83 140.53l4.30 -4.30M838.15 135.96l4.30 4.30M838.15 140.26l4.30 -4.30M838.47 135.69l4.30 4.30M838.47 139.99l4.30 -4.30M838.78 135.42l4.30 4.30M838.78 139.72l4.30 -4.30M839.10 135.14l4.30 4.30M839.10 139.44l4.30 -4.30M839.42 134.87l4.30 4.30M839.42 139.17l4.30 -4.30M839.73 134.59l4.30 4.30M839.73 138.89l4.30 -4.30M840.05 134.31l4.30 4.30M840.05 138.61l4.30 -4.30M840.37 134.03l4.30 4.30M840.37 138.33l4.30 -4.30M840.68 133.75l4.30 4.30M840.68 138.05l4.30 -4.30M841.00 133.46l4.30 4.30M841.00 137.76l4.30 -4.30M841.38 133.17l4.30 4.30M841.38 137.47l4.30 -4.30M841.81 132.88l4.30 4.30M841.81 137.18l4.30 -4.30M842.25 132.59l4.30 4.30M842.25 136.89l4.30 -4.30M842.68 132.29l4.30 4.30M842.68 136.59l4.30 -4.30M843.12 132.00l4.30 4.30M843.12 136.30l4.30 -4.30M843.55 131.70l4.30 4.30M843.55 136.00l4.30 -4.30M843.99 131.39l4.30 4.30M843.99 135.69l4.30 -4.30M844.43 131.09l4.30 4.30M844.43 135.39l4.30 -4.30M844.75 130.78l4.30 4.30M844.75 135.08l4.30 -4.30M844.95 130.47l4.30 4.30M844.95 134.77l4.30 -4.30M845.16 130.16l4.30 4.30M845.16 134.46l4.30 -4.30M845.36 129.84l4.30 4.30M845.36 134.14l4.30 -4.30M845.57 129.52l4.30 4.30M845.57 133.82l4.30 -4.30M845.77 129.20l4.30 4.30M845.77 133.50l4.30 -4.30M845.98 128.87l4.30 4.30M845.98 133.17l4.30 -4.30M846.18 128.55l4.30 4.30M846.18 132.85l4.30 -4.30M846.39 128.21l4.30 4.30M846.39 132.51l4.30 -4.30M846.59 127.88l4.30 4.30M846.59 132.18l4.30 -4.30M846.80 127.54l4.30 4.30M846.80 131.84l4.30 -4.30M847.00 127.20l4.30 4.30M847.00 131.50l4.30 -4.30M847.21 126.85l4.30 4.30M847.21 131.15l4.30 -4.30M847.41 126.50l4.30 4.30M847.41 130.80l4.30 -4.30M847.62 126.14l4.30 4.30M847.62 130.44l4.30 -4.30M847.82 125.78l4.30 4.30M847.82 130.08l4.30 -4.30M848.03 125.42l4.30 4.30M848.03 129.72l4.30 -4.30M848.38 125.05l4.30 4.30M848.38 129.35l4.30 -4.30M848.88 124.68l4.30 4.30M848.88 128.98l4.30 -4.30M849.37 124.30l4.30 4.30M849.37 128.60l4.30 -4.30M849.87 123.92l4.30 4.30M849.87 128.22l4.30 -4.30M850.37 123.53l4.30 4.30M850.37 127.83l4.30 -4.30M850.87 123.14l4.30 4.30M850.87 127.44l4.30 -4.30M851.36 122.74l4.30 4.30M851.36 127.04l4.30 -4.30M851.74 122.34l4.30 4.30M851.74 126.64l4.30 -4.30M851.99 121.93l4.30 4.30M851.99 126.23l4.30 -4.30M852.24 121.51l4.30 4.30M852.24 125.81l4.30 -4.30M852.48 121.09l4.30 4.30M852.48 125.39l4.30 -4.30M852.73 120.66l4.30 4.30M852.73 124.96l4.30 -4.30M852.98 120.22l4.30 4.30M852.98 124.52l4.30 -4.30M853.23 119.78l4.30 4.30M853.23 124.08l4.30 -4.30M853.48 119.33l4.30 4.30M853.48 123.63l4.30 -4.30M853.73 118.87l4.30 4.30M853.73 123.17l4.30 -4.30M853.98 118.40l4.30 4.30M853.98 122.70l4.30 -4.30M854.23 117.92l4.30 4.30M854.23 122.22l4.30 -4.30M854.48 117.43l4.30 4.30M854.48 121.73l4.30 -4.30M854.72 116.93l4.30 4.30M854.72 121.23l4.30 -4.30M854.97 116.43l4.30 4.30M854.97 120.73l4.30 -4.30M855.29 115.91l4.30 4.30M855.29 120.21l4.30 -4.30M855.68 115.38l4.30 4.30M855.68 119.68l4.30 -4.30M856.07 114.84l4.30 4.30M856.07 119.14l4.30 -4.30M856.45 114.28l4.30 4.30M856.45 118.58l4.30 -4.30M856.84 113.72l4.30 4.30M856.84 118.02l4.30 -4.30M857.23 113.13l4.30 4.30M857.23 117.43l4.30 -4.30M857.61 112.53l4.30 4.30M857.61 116.83l4.30 -4.30M858.00 111.92l4.30 4.30M858.00 116.22l4.30 -4.30M858.39 111.29l4.30 4.30M858.39 115.59l4.30 -4.30M860.32 110.63l4.30 4.30M860.32 114.93l4.30 -4.30M862.42 109.96l4.30 4.30M862.42 114.26l4.30 -4.30M863.11 109.27l4.30 4.30M863.11 113.57l4.30 -4.30M863.81 108.55l4.30 4.30M863.81 112.85l4.30 -4.30M864.51 107.81l4.30 4.30M864.51 112.11l4.30 -4.30M865.20 107.04l4.30 4.30M865.20 111.34l4.30 -4.30M865.99 106.23l4.30 4.30M865.99 110.53l4.30 -4.30M866.86 105.40l4.30 4.30M866.86 109.70l4.30 -4.30M867.73 104.52l4.30 4.30M867.73 108.82l4.30 -4.30M868.60 103.61l4.30 4.30M868.60 107.91l4.30 -4.30M869.25 102.64l4.30 4.30M869.25 106.94l4.30 -4.30M869.69 101.63l4.30 4.30M869.69 105.93l4.30 -4.30M870.13 100.56l4.30 4.30M870.13 104.86l4.30 -4.30M870.56 99.41l4.30 4.30M870.56 103.71l4.30 -4.30M871.00 98.19l4.30 4.30M871.00 102.49l4.30 -4.30M871.43 96.88l4.30 4.30M871.43 101.18l4.30 -4.30M871.87 95.46l4.30 4.30M871.87 99.76l4.30 -4.30M872.30 93.90l4.30 4.30M872.30 98.20l4.30 -4.30M872.81 92.18l4.30 4.30M872.81 96.48l4.30 -4.30M873.39 90.25l4.30 4.30M873.39 94.55l4.30 -4.30M873.97 88.05l4.30 4.30M873.97 92.35l4.30 -4.30M874.55 85.47l4.30 4.30M874.55 89.77l4.30 -4.30M880.40 82.33l4.30 4.30M880.40 86.63l4.30 -4.30M886.47 78.27l4.30 4.30M886.47 82.57l4.30 -4.30M905.82 72.38l4.30 4.30M905.82 76.68l4.30 -4.30M905.82 60.69l4.30 4.30M905.82 64.99l4.30 -4.30" stroke="#2416dc" stroke-width="0.9" fill="none" stroke-opacity="0.95"/>
<rect x="609.5" y="32.0" width="419.0" height="269.0" fill="none" stroke="#1e1e1e" stroke-width="1.15"/>
<path d="M679.33 301.0v-4.5M679.33 32.0v4.5M749.17 301.0v-4.5M749.17 32.0v4.5M819.00 301.0v-4.5M819.00 32.0v4.5M888.83 301.0v-4.5M888.83 32.0v4.5M958.67 301.0v-4.5M958.67 32.0v4.5" stroke="#1e1e1e" stroke-width="1" fill="none"/>
<path d="M609.5 291.45h4.5M1028.5 291.45h-4.5M609.5 276.99h4.5M1028.5 276.99h-4.5M609.5 270.23h4.5M1028.5 270.23h-4.5M609.5 252.86h4.5M1028.5 252.86h-4.5M609.5 244.44h4.5M1028.5 244.44h-4.5M609.5 221.43h4.5M1028.5 221.43h-4.5M609.5 209.17h4.5M1028.5 209.17h-4.5M609.5 188.67h4.5M1028.5 188.67h-4.5M609.5 165.90h4.5M1028.5 165.90h-4.5M609.5 143.13h4.5M1028.5 143.13h-4.5M609.5 122.63h4.5M1028.5 122.63h-4.5M609.5 110.37h4.5M1028.5 110.37h-4.5M609.5 87.36h4.5M1028.5 87.36h-4.5M609.5 78.94h4.5M1028.5 78.94h-4.5M609.5 61.57h4.5M1028.5 61.57h-4.5M609.5 54.81h4.5M1028.5 54.81h-4.5M609.5 40.35h4.5M1028.5 40.35h-4.5" stroke="#1e1e1e" stroke-width="1" fill="none"/>
<text x="609.50" y="315.40" font-size="11.4" text-anchor="middle" fill="#151515" >600</text>
<text x="679.33" y="315.40" font-size="11.4" text-anchor="middle" fill="#151515" >700</text>
<text x="749.17" y="315.40" font-size="11.4" text-anchor="middle" fill="#151515" >800</text>
<text x="819.00" y="315.40" font-size="11.4" text-anchor="middle" fill="#151515" >900</text>
<text x="888.83" y="315.40" font-size="11.4" text-anchor="middle" fill="#151515" >1000</text>
<text x="958.67" y="315.40" font-size="11.4" text-anchor="middle" fill="#151515" >1100</text>
<text x="1028.50" y="315.40" font-size="11.4" text-anchor="middle" fill="#151515" >1200</text>
<text x="605.30" y="295.15" font-size="11.4" text-anchor="end" fill="#151515" >0.0001</text>
<text x="605.30" y="280.69" font-size="11.4" text-anchor="end" fill="#151515" >0.0005</text>
<text x="605.30" y="273.93" font-size="11.4" text-anchor="end" fill="#151515" >0.001</text>
<text x="605.30" y="256.56" font-size="11.4" text-anchor="end" fill="#151515" >0.005</text>
<text x="605.30" y="248.14" font-size="11.4" text-anchor="end" fill="#151515" >0.01</text>
<text x="605.30" y="225.13" font-size="11.4" text-anchor="end" fill="#151515" >0.05</text>
<text x="605.30" y="212.87" font-size="11.4" text-anchor="end" fill="#151515" >0.1</text>
<text x="605.30" y="192.37" font-size="11.4" text-anchor="end" fill="#151515" >0.25</text>
<text x="605.30" y="169.60" font-size="11.4" text-anchor="end" fill="#151515" >0.5</text>
<text x="605.30" y="146.83" font-size="11.4" text-anchor="end" fill="#151515" >0.75</text>
<text x="605.30" y="126.33" font-size="11.4" text-anchor="end" fill="#151515" >0.9</text>
<text x="605.30" y="114.07" font-size="11.4" text-anchor="end" fill="#151515" >0.95</text>
<text x="605.30" y="91.06" font-size="11.4" text-anchor="end" fill="#151515" >0.99</text>
<text x="605.30" y="82.64" font-size="11.4" text-anchor="end" fill="#151515" >0.995</text>
<text x="605.30" y="65.27" font-size="11.4" text-anchor="end" fill="#151515" >0.999</text>
<text x="605.30" y="58.51" font-size="11.4" text-anchor="end" fill="#151515" >0.9995</text>
<text x="605.30" y="44.05" font-size="11.4" text-anchor="end" fill="#151515" >0.9999</text>
<text x="818.75" y="333.80" font-size="20.3" text-anchor="middle" fill="#0a0a0a" >Data</text>
<text transform="translate(561.70 165.80) rotate(-90)" font-size="20.3" text-anchor="middle" fill="#0a0a0a">Probability</text>
<text x="815.50" y="22.50" font-size="20.32" text-anchor="middle" fill="#0a0a0a" >Probability plot for Normal distribution</text>
</g>
<g id="p4">
<clipPath id="c4"><rect x="609.5" y="405.5" width="419.0" height="269.70000000000005"/></clipPath>
<path d="M607.4 613.1L1040 435.1" stroke="#4a4a4a" stroke-width="1" stroke-dasharray="6.6 7.07" fill="none" clip-path="url(#c4)"/>
<path d="M614.95 643.10l4.30 4.30M614.95 647.40l4.30 -4.30M614.95 631.64l4.30 4.30M614.95 635.94l4.30 -4.30M614.95 625.89l4.30 4.30M614.95 630.19l4.30 -4.30M614.95 621.93l4.30 4.30M614.95 626.23l4.30 -4.30M614.95 618.87l4.30 4.30M614.95 623.17l4.30 -4.30M652.55 616.36l4.30 4.30M652.55 620.66l4.30 -4.30M652.55 614.23l4.30 4.30M652.55 618.53l4.30 -4.30M652.55 612.36l4.30 4.30M652.55 616.66l4.30 -4.30M652.55 610.69l4.30 4.30M652.55 614.99l4.30 -4.30M652.55 609.19l4.30 4.30M652.55 613.49l4.30 -4.30M652.55 607.81l4.30 4.30M652.55 612.11l4.30 -4.30M652.55 606.54l4.30 4.30M652.55 610.84l4.30 -4.30M652.55 605.36l4.30 4.30M652.55 609.66l4.30 -4.30M652.55 604.26l4.30 4.30M652.55 608.56l4.30 -4.30M652.55 603.23l4.30 4.30M652.55 607.53l4.30 -4.30M652.55 602.25l4.30 4.30M652.55 606.55l4.30 -4.30M652.55 601.33l4.30 4.30M652.55 605.63l4.30 -4.30M652.55 600.45l4.30 4.30M652.55 604.75l4.30 -4.30M652.55 599.61l4.30 4.30M652.55 603.91l4.30 -4.30M652.55 598.80l4.30 4.30M652.55 603.10l4.30 -4.30M652.55 598.03l4.30 4.30M652.55 602.33l4.30 -4.30M652.55 597.30l4.30 4.30M652.55 601.60l4.30 -4.30M652.55 596.58l4.30 4.30M652.55 600.88l4.30 -4.30M652.55 595.90l4.30 4.30M652.55 600.20l4.30 -4.30M652.55 595.23l4.30 4.30M652.55 599.53l4.30 -4.30M652.55 594.59l4.30 4.30M652.55 598.89l4.30 -4.30M652.55 593.97l4.30 4.30M652.55 598.27l4.30 -4.30M652.55 593.36l4.30 4.30M652.55 597.66l4.30 -4.30M652.55 592.78l4.30 4.30M652.55 597.08l4.30 -4.30M652.55 592.21l4.30 4.30M652.55 596.51l4.30 -4.30M652.55 591.65l4.30 4.30M652.55 595.95l4.30 -4.30M652.55 591.11l4.30 4.30M652.55 595.41l4.30 -4.30M652.55 590.58l4.30 4.30M652.55 594.88l4.30 -4.30M652.55 590.07l4.30 4.30M652.55 594.37l4.30 -4.30M652.55 589.56l4.30 4.30M652.55 593.86l4.30 -4.30M652.55 589.07l4.30 4.30M652.55 593.37l4.30 -4.30M652.55 588.59l4.30 4.30M652.55 592.89l4.30 -4.30M652.55 588.12l4.30 4.30M652.55 592.42l4.30 -4.30M689.85 587.66l4.30 4.30M689.85 591.96l4.30 -4.30M689.85 587.21l4.30 4.30M689.85 591.51l4.30 -4.30M689.85 586.76l4.30 4.30M689.85 591.06l4.30 -4.30M689.85 586.33l4.30 4.30M689.85 590.63l4.30 -4.30M689.85 585.90l4.30 4.30M689.85 590.20l4.30 -4.30M689.85 585.48l4.30 4.30M689.85 589.78l4.30 -4.30M689.85 585.07l4.30 4.30M689.85 589.37l4.30 -4.30M689.85 584.66l4.30 4.30M689.85 588.96l4.30 -4.30M689.85 584.26l4.30 4.30M689.85 588.56l4.30 -4.30M689.85 583.87l4.30 4.30M689.85 588.17l4.30 -4.30M689.85 583.48l4.30 4.30M689.85 587.78l4.30 -4.30M689.85 583.10l4.30 4.30M689.85 587.40l4.30 -4.30M689.85 582.73l4.30 4.30M689.85 587.03l4.30 -4.30M689.85 582.36l4.30 4.30M689.85 586.66l4.30 -4.30M689.85 581.99l4.30 4.30M689.85 586.29l4.30 -4.30M689.85 581.63l4.30 4.30M689.85 585.93l4.30 -4.30M689.85 581.28l4.30 4.30M689.85 585.58l4.30 -4.30M689.85 580.93l4.30 4.30M689.85 585.23l4.30 -4.30M689.85 580.58l4.30 4.30M689.85 584.88l4.30 -4.30M689.85 580.24l4.30 4.30M689.85 584.54l4.30 -4.30M689.85 579.91l4.30 4.30M689.85 584.21l4.30 -4.30M689.85 579.57l4.30 4.30M689.85 583.87l4.30 -4.30M689.85 579.25l4.30 4.30M689.85 583.55l4.30 -4.30M689.85 578.92l4.30 4.30M689.85 583.22l4.30 -4.30M689.85 578.60l4.30 4.30M689.85 582.90l4.30 -4.30M689.85 578.28l4.30 4.30M689.85 582.58l4.30 -4.30M689.85 577.97l4.30 4.30M689.85 582.27l4.30 -4.30M689.85 577.66l4.30 4.30M689.85 581.96l4.30 -4.30M689.85 577.35l4.30 4.30M689.85 581.65l4.30 -4.30M689.85 577.05l4.30 4.30M689.85 581.35l4.30 -4.30M689.85 576.75l4.30 4.30M689.85 581.05l4.30 -4.30M689.85 576.45l4.30 4.30M689.85 580.75l4.30 -4.30M689.85 576.16l4.30 4.30M689.85 580.46l4.30 -4.30M689.85 575.87l4.30 4.30M689.85 580.17l4.30 -4.30M689.85 575.58l4.30 4.30M689.85 579.88l4.30 -4.30M689.85 575.29l4.30 4.30M689.85 579.59l4.30 -4.30M689.85 575.01l4.30 4.30M689.85 579.31l4.30 -4.30M689.85 574.73l4.30 4.30M689.85 579.03l4.30 -4.30M689.85 574.45l4.30 4.30M689.85 578.75l4.30 -4.30M689.85 574.17l4.30 4.30M689.85 578.47l4.30 -4.30M689.85 573.90l4.30 4.30M689.85 578.20l4.30 -4.30M689.85 573.63l4.30 4.30M689.85 577.93l4.30 -4.30M689.85 573.36l4.30 4.30M689.85 577.66l4.30 -4.30M689.85 573.09l4.30 4.30M689.85 577.39l4.30 -4.30M689.85 572.83l4.30 4.30M689.85 577.13l4.30 -4.30M689.85 572.57l4.30 4.30M689.85 576.87l4.30 -4.30M689.85 572.31l4.30 4.30M689.85 576.61l4.30 -4.30M689.85 572.05l4.30 4.30M689.85 576.35l4.30 -4.30M689.85 571.79l4.30 4.30M689.85 576.09l4.30 -4.30M689.85 571.54l4.30 4.30M689.85 575.84l4.30 -4.30M689.85 571.29l4.30 4.30M689.85 575.59l4.30 -4.30M689.85 571.04l4.30 4.30M689.85 575.34l4.30 -4.30M689.85 570.79l4.30 4.30M689.85 575.09l4.30 -4.30M689.85 570.54l4.30 4.30M689.85 574.84l4.30 -4.30M689.85 570.30l4.30 4.30M689.85 574.60l4.30 -4.30M689.85 570.05l4.30 4.30M689.85 574.35l4.30 -4.30M689.85 569.81l4.30 4.30M689.85 574.11l4.30 -4.30M689.85 569.57l4.30 4.30M689.85 573.87l4.30 -4.30M689.85 569.33l4.30 4.30M689.85 573.63l4.30 -4.30M689.85 569.10l4.30 4.30M689.85 573.40l4.30 -4.30M689.85 568.86l4.30 4.30M689.85 573.16l4.30 -4.30M689.85 568.63l4.30 4.30M689.85 572.93l4.30 -4.30M689.85 568.39l4.30 4.30M689.85 572.69l4.30 -4.30M689.85 568.16l4.30 4.30M689.85 572.46l4.30 -4.30M689.85 567.93l4.30 4.30M689.85 572.23l4.30 -4.30M689.85 567.71l4.30 4.30M689.85 572.01l4.30 -4.30M689.85 567.48l4.30 4.30M689.85 571.78l4.30 -4.30M689.85 567.25l4.30 4.30M689.85 571.55l4.30 -4.30M689.85 567.03l4.30 4.30M689.85 571.33l4.30 -4.30M689.85 566.81l4.30 4.30M689.85 571.11l4.30 -4.30M689.85 566.58l4.30 4.30M689.85 570.88l4.30 -4.30M689.85 566.36l4.30 4.30M689.85 570.66l4.30 -4.30M689.85 566.15l4.30 4.30M689.85 570.45l4.30 -4.30M689.85 565.93l4.30 4.30M689.85 570.23l4.30 -4.30M689.85 565.71l4.30 4.30M689.85 570.01l4.30 -4.30M689.85 565.49l4.30 4.30M689.85 569.79l4.30 -4.30M689.85 565.28l4.30 4.30M689.85 569.58l4.30 -4.30M689.85 565.07l4.30 4.30M689.85 569.37l4.30 -4.30M689.85 564.85l4.30 4.30M689.85 569.15l4.30 -4.30M727.15 564.64l4.30 4.30M727.15 568.94l4.30 -4.30M727.15 564.43l4.30 4.30M727.15 568.73l4.30 -4.30M727.15 564.22l4.30 4.30M727.15 568.52l4.30 -4.30M727.15 564.02l4.30 4.30M727.15 568.32l4.30 -4.30M727.15 563.81l4.30 4.30M727.15 568.11l4.30 -4.30M727.15 563.60l4.30 4.30M727.15 567.90l4.30 -4.30M727.15 563.40l4.30 4.30M727.15 567.70l4.30 -4.30M727.15 563.19l4.30 4.30M727.15 567.49l4.30 -4.30M727.15 562.99l4.30 4.30M727.15 567.29l4.30 -4.30M727.15 562.79l4.30 4.30M727.15 567.09l4.30 -4.30M727.15 562.58l4.30 4.30M727.15 566.88l4.30 -4.30M727.15 562.38l4.30 4.30M727.15 566.68l4.30 -4.30M727.15 562.18l4.30 4.30M727.15 566.48l4.30 -4.30M727.15 561.98l4.30 4.30M727.15 566.28l4.30 -4.30M727.15 561.79l4.30 4.30M727.15 566.09l4.30 -4.30M727.15 561.59l4.30 4.30M727.15 565.89l4.30 -4.30M727.15 561.39l4.30 4.30M727.15 565.69l4.30 -4.30M727.15 561.20l4.30 4.30M727.15 565.50l4.30 -4.30M727.15 561.00l4.30 4.30M727.15 565.30l4.30 -4.30M727.15 560.81l4.30 4.30M727.15 565.11l4.30 -4.30M727.15 560.61l4.30 4.30M727.15 564.91l4.30 -4.30M727.15 560.42l4.30 4.30M727.15 564.72l4.30 -4.30M727.15 560.23l4.30 4.30M727.15 564.53l4.30 -4.30M727.15 560.04l4.30 4.30M727.15 564.34l4.30 -4.30M727.15 559.85l4.30 4.30M727.15 564.15l4.30 -4.30M727.15 559.66l4.30 4.30M727.15 563.96l4.30 -4.30M727.15 559.47l4.30 4.30M727.15 563.77l4.30 -4.30M727.15 559.28l4.30 4.30M727.15 563.58l4.30 -4.30M727.15 559.09l4.30 4.30M727.15 563.39l4.30 -4.30M727.15 558.90l4.30 4.30M727.15 563.20l4.30 -4.30M727.15 558.72l4.30 4.30M727.15 563.02l4.30 -4.30M727.15 558.53l4.30 4.30M727.15 562.83l4.30 -4.30M727.15 558.35l4.30 4.30M727.15 562.65l4.30 -4.30M727.15 558.16l4.30 4.30M727.15 562.46l4.30 -4.30M727.15 557.98l4.30 4.30M727.15 562.28l4.30 -4.30M727.15 557.79l4.30 4.30M727.15 562.09l4.30 -4.30M727.15 557.61l4.30 4.30M727.15 561.91l4.30 -4.30M727.15 557.43l4.30 4.30M727.15 561.73l4.30 -4.30M727.15 557.25l4.30 4.30M727.15 561.55l4.30 -4.30M727.15 557.07l4.30 4.30M727.15 561.37l4.30 -4.30M727.15 556.89l4.30 4.30M727.15 561.19l4.30 -4.30M727.15 556.71l4.30 4.30M727.15 561.01l4.30 -4.30M727.15 556.53l4.30 4.30M727.15 560.83l4.30 -4.30M727.15 556.35l4.30 4.30M727.15 560.65l4.30 -4.30M727.15 556.17l4.30 4.30M727.15 560.47l4.30 -4.30M727.15 555.99l4.30 4.30M727.15 560.29l4.30 -4.30M727.15 555.81l4.30 4.30M727.15 560.11l4.30 -4.30M727.15 555.64l4.30 4.30M727.15 559.94l4.30 -4.30M727.15 555.46l4.30 4.30M727.15 559.76l4.30 -4.30M727.15 555.28l4.30 4.30M727.15 559.58l4.30 -4.30M727.15 555.11l4.30 4.30M727.15 559.41l4.30 -4.30M727.15 554.93l4.30 4.30M727.15 559.23l4.30 -4.30M727.15 554.76l4.30 4.30M727.15 559.06l4.30 -4.30M727.15 554.58l4.30 4.30M727.15 558.88l4.30 -4.30M727.15 554.41l4.30 4.30M727.15 558.71l4.30 -4.30M727.15 554.24l4.30 4.30M727.15 558.54l4.30 -4.30M727.15 554.07l4.30 4.30M727.15 558.37l4.30 -4.30M727.15 553.89l4.30 4.30M727.15 558.19l4.30 -4.30M727.15 553.72l4.30 4.30M727.15 558.02l4.30 -4.30M727.15 553.55l4.30 4.30M727.15 557.85l4.30 -4.30M727.15 553.38l4.30 4.30M727.15 557.68l4.30 -4.30M727.15 553.21l4.30 4.30M727.15 557.51l4.30 -4.30M727.15 553.04l4.30 4.30M727.15 557.34l4.30 -4.30M727.15 552.87l4.30 4.30M727.15 557.17l4.30 -4.30M727.15 552.70l4.30 4.30M727.15 557.00l4.30 -4.30M727.15 552.53l4.30 4.30M727.15 556.83l4.30 -4.30M727.15 552.36l4.30 4.30M727.15 556.66l4.30 -4.30M727.15 552.19l4.30 4.30M727.15 556.49l4.30 -4.30M727.15 552.02l4.30 4.30M727.15 556.32l4.30 -4.30M727.15 551.85l4.30 4.30M727.15 556.15l4.30 -4.30M727.15 551.69l4.30 4.30M727.15 555.99l4.30 -4.30M727.15 551.52l4.30 4.30M727.15 555.82l4.30 -4.30M727.15 551.35l4.30 4.30M727.15 555.65l4.30 -4.30M727.15 551.19l4.30 4.30M727.15 555.49l4.30 -4.30M727.15 551.02l4.30 4.30M727.15 555.32l4.30 -4.30M763.95 550.85l4.30 4.30M763.95 555.15l4.30 -4.30M763.95 550.69l4.30 4.30M763.95 554.99l4.30 -4.30M763.95 550.52l4.30 4.30M763.95 554.82l4.30 -4.30M763.95 550.36l4.30 4.30M763.95 554.66l4.30 -4.30M763.95 550.19l4.30 4.30M763.95 554.49l4.30 -4.30M763.95 550.03l4.30 4.30M763.95 554.33l4.30 -4.30M763.95 549.87l4.30 4.30M763.95 554.17l4.30 -4.30M763.95 549.70l4.30 4.30M763.95 554.00l4.30 -4.30M763.95 549.54l4.30 4.30M763.95 553.84l4.30 -4.30M763.95 549.38l4.30 4.30M763.95 553.68l4.30 -4.30M763.95 549.21l4.30 4.30M763.95 553.51l4.30 -4.30M763.95 549.05l4.30 4.30M763.95 553.35l4.30 -4.30M763.95 548.89l4.30 4.30M763.95 553.19l4.30 -4.30M763.95 548.73l4.30 4.30M763.95 553.03l4.30 -4.30M763.95 548.56l4.30 4.30M763.95 552.86l4.30 -4.30M763.95 548.40l4.30 4.30M763.95 552.70l4.30 -4.30M763.95 548.24l4.30 4.30M763.95 552.54l4.30 -4.30M763.95 548.08l4.30 4.30M763.95 552.38l4.30 -4.30M763.95 547.92l4.30 4.30M763.95 552.22l4.30 -4.30M763.95 547.76l4.30 4.30M763.95 552.06l4.30 -4.30M763.95 547.60l4.30 4.30M763.95 551.90l4.30 -4.30M763.95 547.44l4.30 4.30M763.95 551.74l4.30 -4.30M763.95 547.28l4.30 4.30M763.95 551.58l4.30 -4.30M763.95 547.12l4.30 4.30M763.95 551.42l4.30 -4.30M763.95 546.96l4.30 4.30M763.95 551.26l4.30 -4.30M763.95 546.80l4.30 4.30M763.95 551.10l4.30 -4.30M763.95 546.64l4.30 4.30M763.95 550.94l4.30 -4.30M763.95 546.48l4.30 4.30M763.95 550.78l4.30 -4.30M763.95 546.32l4.30 4.30M763.95 550.62l4.30 -4.30M763.95 546.16l4.30 4.30M763.95 550.46l4.30 -4.30M763.95 546.00l4.30 4.30M763.95 550.30l4.30 -4.30M763.95 545.85l4.30 4.30M763.95 550.15l4.30 -4.30M763.95 545.69l4.30 4.30M763.95 549.99l4.30 -4.30M763.95 545.53l4.30 4.30M763.95 549.83l4.30 -4.30M763.95 545.37l4.30 4.30M763.95 549.67l4.30 -4.30M763.95 545.21l4.30 4.30M763.95 549.51l4.30 -4.30M763.95 545.06l4.30 4.30M763.95 549.36l4.30 -4.30M763.95 544.90l4.30 4.30M763.95 549.20l4.30 -4.30M763.95 544.74l4.30 4.30M763.95 549.04l4.30 -4.30M763.95 544.59l4.30 4.30M763.95 548.89l4.30 -4.30M763.95 544.43l4.30 4.30M763.95 548.73l4.30 -4.30M763.95 544.27l4.30 4.30M763.95 548.57l4.30 -4.30M763.95 544.12l4.30 4.30M763.95 548.42l4.30 -4.30M763.95 543.96l4.30 4.30M763.95 548.26l4.30 -4.30M763.95 543.80l4.30 4.30M763.95 548.10l4.30 -4.30M763.95 543.65l4.30 4.30M763.95 547.95l4.30 -4.30M763.95 543.49l4.30 4.30M763.95 547.79l4.30 -4.30M763.95 543.33l4.30 4.30M763.95 547.63l4.30 -4.30M763.95 543.18l4.30 4.30M763.95 547.48l4.30 -4.30M763.95 543.02l4.30 4.30M763.95 547.32l4.30 -4.30M763.95 542.87l4.30 4.30M763.95 547.17l4.30 -4.30M763.95 542.71l4.30 4.30M763.95 547.01l4.30 -4.30M763.95 542.56l4.30 4.30M763.95 546.86l4.30 -4.30M763.95 542.40l4.30 4.30M763.95 546.70l4.30 -4.30M763.95 542.25l4.30 4.30M763.95 546.55l4.30 -4.30M763.95 542.09l4.30 4.30M763.95 546.39l4.30 -4.30M763.95 541.94l4.30 4.30M763.95 546.24l4.30 -4.30M763.95 541.78l4.30 4.30M763.95 546.08l4.30 -4.30M763.95 541.63l4.30 4.30M763.95 545.93l4.30 -4.30M763.95 541.47l4.30 4.30M763.95 545.77l4.30 -4.30M763.95 541.32l4.30 4.30M763.95 545.62l4.30 -4.30M763.95 541.16l4.30 4.30M763.95 545.46l4.30 -4.30M763.95 541.01l4.30 4.30M763.95 545.31l4.30 -4.30M763.95 540.85l4.30 4.30M763.95 545.15l4.30 -4.30M763.95 540.70l4.30 4.30M763.95 545.00l4.30 -4.30M763.95 540.54l4.30 4.30M763.95 544.84l4.30 -4.30M763.95 540.39l4.30 4.30M763.95 544.69l4.30 -4.30M763.95 540.24l4.30 4.30M763.95 544.54l4.30 -4.30M763.95 540.08l4.30 4.30M763.95 544.38l4.30 -4.30M763.95 539.93l4.30 4.30M763.95 544.23l4.30 -4.30M763.95 539.77l4.30 4.30M763.95 544.07l4.30 -4.30M763.95 539.62l4.30 4.30M763.95 543.92l4.30 -4.30M763.95 539.47l4.30 4.30M763.95 543.77l4.30 -4.30M763.95 539.31l4.30 4.30M763.95 543.61l4.30 -4.30M763.95 539.16l4.30 4.30M763.95 543.46l4.30 -4.30M763.95 539.00l4.30 4.30M763.95 543.30l4.30 -4.30M763.95 538.85l4.30 4.30M763.95 543.15l4.30 -4.30M763.95 538.70l4.30 4.30M763.95 543.00l4.30 -4.30M763.95 538.54l4.30 4.30M763.95 542.84l4.30 -4.30M763.95 538.39l4.30 4.30M763.95 542.69l4.30 -4.30M763.95 538.23l4.30 4.30M763.95 542.53l4.30 -4.30M763.95 538.08l4.30 4.30M763.95 542.38l4.30 -4.30M763.95 537.93l4.30 4.30M763.95 542.23l4.30 -4.30M763.95 537.77l4.30 4.30M763.95 542.07l4.30 -4.30M763.95 537.62l4.30 4.30M763.95 541.92l4.30 -4.30M763.95 537.47l4.30 4.30M763.95 541.77l4.30 -4.30M763.95 537.31l4.30 4.30M763.95 541.61l4.30 -4.30M763.95 537.16l4.30 4.30M763.95 541.46l4.30 -4.30M763.95 537.00l4.30 4.30M763.95 541.30l4.30 -4.30M763.95 536.85l4.30 4.30M763.95 541.15l4.30 -4.30M763.95 536.70l4.30 4.30M763.95 541.00l4.30 -4.30M763.95 536.54l4.30 4.30M763.95 540.84l4.30 -4.30M763.95 536.39l4.30 4.30M763.95 540.69l4.30 -4.30M800.85 536.23l4.30 4.30M800.85 540.53l4.30 -4.30M800.85 536.08l4.30 4.30M800.85 540.38l4.30 -4.30M800.85 535.93l4.30 4.30M800.85 540.23l4.30 -4.30M800.85 535.77l4.30 4.30M800.85 540.07l4.30 -4.30M800.85 535.62l4.30 4.30M800.85 539.92l4.30 -4.30M800.85 535.46l4.30 4.30M800.85 539.76l4.30 -4.30M800.85 535.31l4.30 4.30M800.85 539.61l4.30 -4.30M800.85 535.16l4.30 4.30M800.85 539.46l4.30 -4.30M800.85 535.00l4.30 4.30M800.85 539.30l4.30 -4.30M800.85 534.85l4.30 4.30M800.85 539.15l4.30 -4.30M800.85 534.69l4.30 4.30M800.85 538.99l4.30 -4.30M800.85 534.54l4.30 4.30M800.85 538.84l4.30 -4.30M800.85 534.38l4.30 4.30M800.85 538.68l4.30 -4.30M800.85 534.23l4.30 4.30M800.85 538.53l4.30 -4.30M800.85 534.07l4.30 4.30M800.85 538.37l4.30 -4.30M800.85 533.92l4.30 4.30M800.85 538.22l4.30 -4.30M800.85 533.76l4.30 4.30M800.85 538.06l4.30 -4.30M800.85 533.61l4.30 4.30M800.85 537.91l4.30 -4.30M800.85 533.45l4.30 4.30M800.85 537.75l4.30 -4.30M800.85 533.30l4.30 4.30M800.85 537.60l4.30 -4.30M800.85 533.14l4.30 4.30M800.85 537.44l4.30 -4.30M800.85 532.99l4.30 4.30M800.85 537.29l4.30 -4.30M800.85 532.83l4.30 4.30M800.85 537.13l4.30 -4.30M800.85 532.68l4.30 4.30M800.85 536.98l4.30 -4.30M800.85 532.52l4.30 4.30M800.85 536.82l4.30 -4.30M800.85 532.37l4.30 4.30M800.85 536.67l4.30 -4.30M800.85 532.21l4.30 4.30M800.85 536.51l4.30 -4.30M800.85 532.05l4.30 4.30M800.85 536.35l4.30 -4.30M800.85 531.90l4.30 4.30M800.85 536.20l4.30 -4.30M800.85 531.74l4.30 4.30M800.85 536.04l4.30 -4.30M800.85 531.58l4.30 4.30M800.85 535.88l4.30 -4.30M800.85 531.43l4.30 4.30M800.85 535.73l4.30 -4.30M800.85 531.27l4.30 4.30M800.85 535.57l4.30 -4.30M800.85 531.11l4.30 4.30M800.85 535.41l4.30 -4.30M800.85 530.96l4.30 4.30M800.85 535.26l4.30 -4.30M800.85 530.80l4.30 4.30M800.85 535.10l4.30 -4.30M800.85 530.64l4.30 4.30M800.85 534.94l4.30 -4.30M800.85 530.49l4.30 4.30M800.85 534.79l4.30 -4.30M800.85 530.33l4.30 4.30M800.85 534.63l4.30 -4.30M800.85 530.17l4.30 4.30M800.85 534.47l4.30 -4.30M800.85 530.01l4.30 4.30M800.85 534.31l4.30 -4.30M800.85 529.85l4.30 4.30M800.85 534.15l4.30 -4.30M800.85 529.70l4.30 4.30M800.85 534.00l4.30 -4.30M800.85 529.54l4.30 4.30M800.85 533.84l4.30 -4.30M800.85 529.38l4.30 4.30M800.85 533.68l4.30 -4.30M800.85 529.22l4.30 4.30M800.85 533.52l4.30 -4.30M800.85 529.06l4.30 4.30M800.85 533.36l4.30 -4.30M800.85 528.90l4.30 4.30M800.85 533.20l4.30 -4.30M800.85 528.74l4.30 4.30M800.85 533.04l4.30 -4.30M800.85 528.58l4.30 4.30M800.85 532.88l4.30 -4.30M800.85 528.42l4.30 4.30M800.85 532.72l4.30 -4.30M800.85 528.26l4.30 4.30M800.85 532.56l4.30 -4.30M800.85 528.10l4.30 4.30M800.85 532.40l4.30 -4.30M800.85 527.94l4.30 4.30M800.85 532.24l4.30 -4.30M800.85 527.78l4.30 4.30M800.85 532.08l4.30 -4.30M800.85 527.62l4.30 4.30M800.85 531.92l4.30 -4.30M800.85 527.46l4.30 4.30M800.85 531.76l4.30 -4.30M800.85 527.30l4.30 4.30M800.85 531.60l4.30 -4.30M800.85 527.14l4.30 4.30M800.85 531.44l4.30 -4.30M800.85 526.97l4.30 4.30M800.85 531.27l4.30 -4.30M800.85 526.81l4.30 4.30M800.85 531.11l4.30 -4.30M800.85 526.65l4.30 4.30M800.85 530.95l4.30 -4.30M800.85 526.49l4.30 4.30M800.85 530.79l4.30 -4.30M800.85 526.32l4.30 4.30M800.85 530.62l4.30 -4.30M800.85 526.16l4.30 4.30M800.85 530.46l4.30 -4.30M800.85 526.00l4.30 4.30M800.85 530.30l4.30 -4.30M800.85 525.83l4.30 4.30M800.85 530.13l4.30 -4.30M800.85 525.67l4.30 4.30M800.85 529.97l4.30 -4.30M800.85 525.51l4.30 4.30M800.85 529.81l4.30 -4.30M800.85 525.34l4.30 4.30M800.85 529.64l4.30 -4.30M800.85 525.18l4.30 4.30M800.85 529.48l4.30 -4.30M800.85 525.01l4.30 4.30M800.85 529.31l4.30 -4.30M800.85 524.85l4.30 4.30M800.85 529.15l4.30 -4.30M800.85 524.68l4.30 4.30M800.85 528.98l4.30 -4.30M800.85 524.51l4.30 4.30M800.85 528.81l4.30 -4.30M800.85 524.35l4.30 4.30M800.85 528.65l4.30 -4.30M800.85 524.18l4.30 4.30M800.85 528.48l4.30 -4.30M800.85 524.01l4.30 4.30M800.85 528.31l4.30 -4.30M800.85 523.85l4.30 4.30M800.85 528.15l4.30 -4.30M800.85 523.68l4.30 4.30M800.85 527.98l4.30 -4.30M800.85 523.51l4.30 4.30M800.85 527.81l4.30 -4.30M800.85 523.34l4.30 4.30M800.85 527.64l4.30 -4.30M800.85 523.17l4.30 4.30M800.85 527.47l4.30 -4.30M800.85 523.00l4.30 4.30M800.85 527.30l4.30 -4.30M800.85 522.83l4.30 4.30M800.85 527.13l4.30 -4.30M800.85 522.66l4.30 4.30M800.85 526.96l4.30 -4.30M837.45 522.49l4.30 4.30M837.45 526.79l4.30 -4.30M837.45 522.32l4.30 4.30M837.45 526.62l4.30 -4.30M837.45 522.15l4.30 4.30M837.45 526.45l4.30 -4.30M837.45 521.98l4.30 4.30M837.45 526.28l4.30 -4.30M837.45 521.81l4.30 4.30M837.45 526.11l4.30 -4.30M837.45 521.63l4.30 4.30M837.45 525.93l4.30 -4.30M837.45 521.46l4.30 4.30M837.45 525.76l4.30 -4.30M837.45 521.29l4.30 4.30M837.45 525.59l4.30 -4.30M837.45 521.12l4.30 4.30M837.45 525.42l4.30 -4.30M837.45 520.94l4.30 4.30M837.45 525.24l4.30 -4.30M837.45 520.77l4.30 4.30M837.45 525.07l4.30 -4.30M837.45 520.59l4.30 4.30M837.45 524.89l4.30 -4.30M837.45 520.42l4.30 4.30M837.45 524.72l4.30 -4.30M837.45 520.24l4.30 4.30M837.45 524.54l4.30 -4.30M837.45 520.06l4.30 4.30M837.45 524.36l4.30 -4.30M837.45 519.89l4.30 4.30M837.45 524.19l4.30 -4.30M837.45 519.71l4.30 4.30M837.45 524.01l4.30 -4.30M837.45 519.53l4.30 4.30M837.45 523.83l4.30 -4.30M837.45 519.35l4.30 4.30M837.45 523.65l4.30 -4.30M837.45 519.17l4.30 4.30M837.45 523.47l4.30 -4.30M837.45 518.99l4.30 4.30M837.45 523.29l4.30 -4.30M837.45 518.81l4.30 4.30M837.45 523.11l4.30 -4.30M837.45 518.63l4.30 4.30M837.45 522.93l4.30 -4.30M837.45 518.45l4.30 4.30M837.45 522.75l4.30 -4.30M837.45 518.27l4.30 4.30M837.45 522.57l4.30 -4.30M837.45 518.09l4.30 4.30M837.45 522.39l4.30 -4.30M837.45 517.91l4.30 4.30M837.45 522.21l4.30 -4.30M837.45 517.72l4.30 4.30M837.45 522.02l4.30 -4.30M837.45 517.54l4.30 4.30M837.45 521.84l4.30 -4.30M837.45 517.35l4.30 4.30M837.45 521.65l4.30 -4.30M837.45 517.17l4.30 4.30M837.45 521.47l4.30 -4.30M837.45 516.98l4.30 4.30M837.45 521.28l4.30 -4.30M837.45 516.80l4.30 4.30M837.45 521.10l4.30 -4.30M837.45 516.61l4.30 4.30M837.45 520.91l4.30 -4.30M837.45 516.42l4.30 4.30M837.45 520.72l4.30 -4.30M837.45 516.23l4.30 4.30M837.45 520.53l4.30 -4.30M837.45 516.04l4.30 4.30M837.45 520.34l4.30 -4.30M837.45 515.85l4.30 4.30M837.45 520.15l4.30 -4.30M837.45 515.66l4.30 4.30M837.45 519.96l4.30 -4.30M837.45 515.47l4.30 4.30M837.45 519.77l4.30 -4.30M837.45 515.28l4.30 4.30M837.45 519.58l4.30 -4.30M837.45 515.09l4.30 4.30M837.45 519.39l4.30 -4.30M837.45 514.89l4.30 4.30M837.45 519.19l4.30 -4.30M837.45 514.70l4.30 4.30M837.45 519.00l4.30 -4.30M837.45 514.50l4.30 4.30M837.45 518.80l4.30 -4.30M837.45 514.31l4.30 4.30M837.45 518.61l4.30 -4.30M837.45 514.11l4.30 4.30M837.45 518.41l4.30 -4.30M837.45 513.91l4.30 4.30M837.45 518.21l4.30 -4.30M837.45 513.72l4.30 4.30M837.45 518.02l4.30 -4.30M837.45 513.52l4.30 4.30M837.45 517.82l4.30 -4.30M837.45 513.32l4.30 4.30M837.45 517.62l4.30 -4.30M837.45 513.12l4.30 4.30M837.45 517.42l4.30 -4.30M837.45 512.91l4.30 4.30M837.45 517.21l4.30 -4.30M837.45 512.71l4.30 4.30M837.45 517.01l4.30 -4.30M837.45 512.51l4.30 4.30M837.45 516.81l4.30 -4.30M837.45 512.30l4.30 4.30M837.45 516.60l4.30 -4.30M837.45 512.10l4.30 4.30M837.45 516.40l4.30 -4.30M837.45 511.89l4.30 4.30M837.45 516.19l4.30 -4.30M837.45 511.68l4.30 4.30M837.45 515.98l4.30 -4.30M837.45 511.48l4.30 4.30M837.45 515.78l4.30 -4.30M837.45 511.27l4.30 4.30M837.45 515.57l4.30 -4.30M837.45 511.06l4.30 4.30M837.45 515.36l4.30 -4.30M837.45 510.85l4.30 4.30M837.45 515.15l4.30 -4.30M874.05 510.63l4.30 4.30M874.05 514.93l4.30 -4.30M874.05 510.42l4.30 4.30M874.05 514.72l4.30 -4.30M874.05 510.21l4.30 4.30M874.05 514.51l4.30 -4.30M874.05 509.99l4.30 4.30M874.05 514.29l4.30 -4.30M874.05 509.77l4.30 4.30M874.05 514.07l4.30 -4.30M874.05 509.55l4.30 4.30M874.05 513.85l4.30 -4.30M874.05 509.34l4.30 4.30M874.05 513.64l4.30 -4.30M874.05 509.12l4.30 4.30M874.05 513.42l4.30 -4.30M874.05 508.89l4.30 4.30M874.05 513.19l4.30 -4.30M874.05 508.67l4.30 4.30M874.05 512.97l4.30 -4.30M874.05 508.45l4.30 4.30M874.05 512.75l4.30 -4.30M874.05 508.22l4.30 4.30M874.05 512.52l4.30 -4.30M874.05 507.99l4.30 4.30M874.05 512.29l4.30 -4.30M874.05 507.77l4.30 4.30M874.05 512.07l4.30 -4.30M874.05 507.54l4.30 4.30M874.05 511.84l4.30 -4.30M874.05 507.31l4.30 4.30M874.05 511.61l4.30 -4.30M874.05 507.07l4.30 4.30M874.05 511.37l4.30 -4.30M874.05 506.84l4.30 4.30M874.05 511.14l4.30 -4.30M874.05 506.60l4.30 4.30M874.05 510.90l4.30 -4.30M874.05 506.37l4.30 4.30M874.05 510.67l4.30 -4.30M874.05 506.13l4.30 4.30M874.05 510.43l4.30 -4.30M874.05 505.89l4.30 4.30M874.05 510.19l4.30 -4.30M874.05 505.65l4.30 4.30M874.05 509.95l4.30 -4.30M874.05 505.40l4.30 4.30M874.05 509.70l4.30 -4.30M874.05 505.16l4.30 4.30M874.05 509.46l4.30 -4.30M874.05 504.91l4.30 4.30M874.05 509.21l4.30 -4.30M874.05 504.66l4.30 4.30M874.05 508.96l4.30 -4.30M874.05 504.41l4.30 4.30M874.05 508.71l4.30 -4.30M874.05 504.16l4.30 4.30M874.05 508.46l4.30 -4.30M874.05 503.91l4.30 4.30M874.05 508.21l4.30 -4.30M874.05 503.65l4.30 4.30M874.05 507.95l4.30 -4.30M874.05 503.39l4.30 4.30M874.05 507.69l4.30 -4.30M874.05 503.13l4.30 4.30M874.05 507.43l4.30 -4.30M874.05 502.87l4.30 4.30M874.05 507.17l4.30 -4.30M874.05 502.61l4.30 4.30M874.05 506.91l4.30 -4.30M874.05 502.34l4.30 4.30M874.05 506.64l4.30 -4.30M874.05 502.07l4.30 4.30M874.05 506.37l4.30 -4.30M874.05 501.80l4.30 4.30M874.05 506.10l4.30 -4.30M874.05 501.53l4.30 4.30M874.05 505.83l4.30 -4.30M874.05 501.25l4.30 4.30M874.05 505.55l4.30 -4.30M874.05 500.97l4.30 4.30M874.05 505.27l4.30 -4.30M874.05 500.69l4.30 4.30M874.05 504.99l4.30 -4.30M874.05 500.41l4.30 4.30M874.05 504.71l4.30 -4.30M910.35 500.12l4.30 4.30M910.35 504.42l4.30 -4.30M910.35 499.83l4.30 4.30M910.35 504.13l4.30 -4.30M910.35 499.54l4.30 4.30M910.35 503.84l4.30 -4.30M910.35 499.25l4.30 4.30M910.35 503.55l4.30 -4.30M910.35 498.95l4.30 4.30M910.35 503.25l4.30 -4.30M910.35 498.65l4.30 4.30M910.35 502.95l4.30 -4.30M910.35 498.35l4.30 4.30M910.35 502.65l4.30 -4.30M910.35 498.04l4.30 4.30M910.35 502.34l4.30 -4.30M910.35 497.73l4.30 4.30M910.35 502.03l4.30 -4.30M910.35 497.42l4.30 4.30M910.35 501.72l4.30 -4.30M910.35 497.10l4.30 4.30M910.35 501.40l4.30 -4.30M910.35 496.78l4.30 4.30M910.35 501.08l4.30 -4.30M910.35 496.45l4.30 4.30M910.35 500.75l4.30 -4.30M910.35 496.13l4.30 4.30M910.35 500.43l4.30 -4.30M910.35 495.79l4.30 4.30M910.35 500.09l4.30 -4.30M910.35 495.46l4.30 4.30M910.35 499.76l4.30 -4.30M910.35 495.12l4.30 4.30M910.35 499.42l4.30 -4.30M910.35 494.77l4.30 4.30M910.35 499.07l4.30 -4.30M910.35 494.42l4.30 4.30M910.35 498.72l4.30 -4.30M910.35 494.07l4.30 4.30M910.35 498.37l4.30 -4.30M910.35 493.71l4.30 4.30M910.35 498.01l4.30 -4.30M910.35 493.34l4.30 4.30M910.35 497.64l4.30 -4.30M910.35 492.97l4.30 4.30M910.35 497.27l4.30 -4.30M910.35 492.60l4.30 4.30M910.35 496.90l4.30 -4.30M910.35 492.22l4.30 4.30M910.35 496.52l4.30 -4.30M910.35 491.83l4.30 4.30M910.35 496.13l4.30 -4.30M910.35 491.44l4.30 4.30M910.35 495.74l4.30 -4.30M910.35 491.04l4.30 4.30M910.35 495.34l4.30 -4.30M910.35 490.63l4.30 4.30M910.35 494.93l4.30 -4.30M910.35 490.22l4.30 4.30M910.35 494.52l4.30 -4.30M910.35 489.80l4.30 4.30M910.35 494.10l4.30 -4.30M910.35 489.37l4.30 4.30M910.35 493.67l4.30 -4.30M910.35 488.94l4.30 4.30M910.35 493.24l4.30 -4.30M910.35 488.49l4.30 4.30M910.35 492.79l4.30 -4.30M910.35 488.04l4.30 4.30M910.35 492.34l4.30 -4.30M946.35 487.58l4.30 4.30M946.35 491.88l4.30 -4.30M946.35 487.11l4.30 4.30M946.35 491.41l4.30 -4.30M946.35 486.63l4.30 4.30M946.35 490.93l4.30 -4.30M946.35 486.14l4.30 4.30M946.35 490.44l4.30 -4.30M946.35 485.63l4.30 4.30M946.35 489.93l4.30 -4.30M946.35 485.12l4.30 4.30M946.35 489.42l4.30 -4.30M946.35 484.59l4.30 4.30M946.35 488.89l4.30 -4.30M946.35 484.05l4.30 4.30M946.35 488.35l4.30 -4.30M946.35 483.49l4.30 4.30M946.35 487.79l4.30 -4.30M946.35 482.92l4.30 4.30M946.35 487.22l4.30 -4.30M946.35 482.34l4.30 4.30M946.35 486.64l4.30 -4.30M946.35 481.73l4.30 4.30M946.35 486.03l4.30 -4.30M946.35 481.11l4.30 4.30M946.35 485.41l4.30 -4.30M946.35 480.47l4.30 4.30M946.35 484.77l4.30 -4.30M946.35 479.80l4.30 4.30M946.35 484.10l4.30 -4.30M946.35 479.12l4.30 4.30M946.35 483.42l4.30 -4.30M946.35 478.40l4.30 4.30M946.35 482.70l4.30 -4.30M946.35 477.67l4.30 4.30M946.35 481.97l4.30 -4.30M946.35 476.90l4.30 4.30M946.35 481.20l4.30 -4.30M946.35 476.09l4.30 4.30M946.35 480.39l4.30 -4.30M946.35 475.25l4.30 4.30M946.35 479.55l4.30 -4.30M946.35 474.37l4.30 4.30M946.35 478.67l4.30 -4.30M946.35 473.45l4.30 4.30M946.35 477.75l4.30 -4.30M946.35 472.47l4.30 4.30M946.35 476.77l4.30 -4.30M982.45 471.44l4.30 4.30M982.45 475.74l4.30 -4.30M982.45 470.34l4.30 4.30M982.45 474.64l4.30 -4.30M982.45 469.16l4.30 4.30M982.45 473.46l4.30 -4.30M982.45 467.89l4.30 4.30M982.45 472.19l4.30 -4.30M982.45 466.51l4.30 4.30M982.45 470.81l4.30 -4.30M982.45 465.01l4.30 4.30M982.45 469.31l4.30 -4.30M982.45 463.34l4.30 4.30M982.45 467.64l4.30 -4.30M982.45 461.47l4.30 4.30M982.45 465.77l4.30 -4.30M982.45 459.34l4.30 4.30M982.45 463.64l4.30 -4.30M1018.15 456.83l4.30 4.30M1018.15 461.13l4.30 -4.30M1018.15 453.77l4.30 4.30M1018.15 458.07l4.30 -4.30M1018.15 449.81l4.30 4.30M1018.15 454.11l4.30 -4.30M1018.15 444.06l4.30 4.30M1018.15 448.36l4.30 -4.30M1018.15 432.60l4.30 4.30M1018.15 436.90l4.30 -4.30" stroke="#2416dc" stroke-width="0.9" fill="none" stroke-opacity="0.95"/>
<rect x="609.5" y="405.5" width="419.0" height="269.70000000000005" fill="none" stroke="#1e1e1e" stroke-width="1.15"/>
<path d="M686.00 675.2v-4.5M686.00 405.5v4.5M855.70 675.2v-4.5M855.70 405.5v4.5M1025.80 675.2v-4.5M1025.80 405.5v4.5" stroke="#1e1e1e" stroke-width="1" fill="none"/>
<path d="M609.5 665.52h4.5M1028.5 665.52h-4.5M609.5 651.06h4.5M1028.5 651.06h-4.5M609.5 644.30h4.5M1028.5 644.30h-4.5M609.5 626.93h4.5M1028.5 626.93h-4.5M609.5 618.51h4.5M1028.5 618.51h-4.5M609.5 595.51h4.5M1028.5 595.51h-4.5M609.5 583.25h4.5M1028.5 583.25h-4.5M609.5 562.76h4.5M1028.5 562.76h-4.5M609.5 540.00h4.5M1028.5 540.00h-4.5M609.5 517.24h4.5M1028.5 517.24h-4.5M609.5 496.75h4.5M1028.5 496.75h-4.5M609.5 484.49h4.5M1028.5 484.49h-4.5M609.5 461.49h4.5M1028.5 461.49h-4.5M609.5 453.07h4.5M1028.5 453.07h-4.5M609.5 435.70h4.5M1028.5 435.70h-4.5M609.5 428.94h4.5M1028.5 428.94h-4.5M609.5 414.48h4.5M1028.5 414.48h-4.5" stroke="#1e1e1e" stroke-width="1" fill="none"/>
<text x="685.50" y="692.6" font-size="11.4" text-anchor="end" fill="#151515">10</text>
<text x="685.60" y="685.8" font-size="8.4" textLength="14.2" lengthAdjust="spacingAndGlyphs" text-anchor="start" fill="#151515">2.74</text>
<text x="855.20" y="692.6" font-size="11.4" text-anchor="end" fill="#151515">10</text>
<text x="855.30" y="685.8" font-size="8.4" textLength="14.2" lengthAdjust="spacingAndGlyphs" text-anchor="start" fill="#151515">2.75</text>
<text x="1025.30" y="692.6" font-size="11.4" text-anchor="end" fill="#151515">10</text>
<text x="1025.40" y="685.8" font-size="8.4" textLength="14.2" lengthAdjust="spacingAndGlyphs" text-anchor="start" fill="#151515">2.76</text>
<text x="605.30" y="669.22" font-size="11.4" text-anchor="end" fill="#151515" >0.0001</text>
<text x="605.30" y="654.76" font-size="11.4" text-anchor="end" fill="#151515" >0.0005</text>
<text x="605.30" y="648.00" font-size="11.4" text-anchor="end" fill="#151515" >0.001</text>
<text x="605.30" y="630.63" font-size="11.4" text-anchor="end" fill="#151515" >0.005</text>
<text x="605.30" y="622.21" font-size="11.4" text-anchor="end" fill="#151515" >0.01</text>
<text x="605.30" y="599.21" font-size="11.4" text-anchor="end" fill="#151515" >0.05</text>
<text x="605.30" y="586.95" font-size="11.4" text-anchor="end" fill="#151515" >0.1</text>
<text x="605.30" y="566.46" font-size="11.4" text-anchor="end" fill="#151515" >0.25</text>
<text x="605.30" y="543.70" font-size="11.4" text-anchor="end" fill="#151515" >0.5</text>
<text x="605.30" y="520.94" font-size="11.4" text-anchor="end" fill="#151515" >0.75</text>
<text x="605.30" y="500.45" font-size="11.4" text-anchor="end" fill="#151515" >0.9</text>
<text x="605.30" y="488.19" font-size="11.4" text-anchor="end" fill="#151515" >0.95</text>
<text x="605.30" y="465.19" font-size="11.4" text-anchor="end" fill="#151515" >0.99</text>
<text x="605.30" y="456.77" font-size="11.4" text-anchor="end" fill="#151515" >0.995</text>
<text x="605.30" y="439.40" font-size="11.4" text-anchor="end" fill="#151515" >0.999</text>
<text x="605.30" y="432.64" font-size="11.4" text-anchor="end" fill="#151515" >0.9995</text>
<text x="605.30" y="418.18" font-size="11.4" text-anchor="end" fill="#151515" >0.9999</text>
<text x="818.75" y="712.30" font-size="20.3" text-anchor="middle" fill="#0a0a0a" >Data</text>
<text transform="translate(561.70 539.80) rotate(-90)" font-size="20.3" text-anchor="middle" fill="#0a0a0a">Probability</text>
<text x="818.70" y="395.90" font-size="20.32" text-anchor="middle" fill="#0a0a0a" >Probability plot for Lognormal distribution</text>
</g>
</svg>
</body></html>
